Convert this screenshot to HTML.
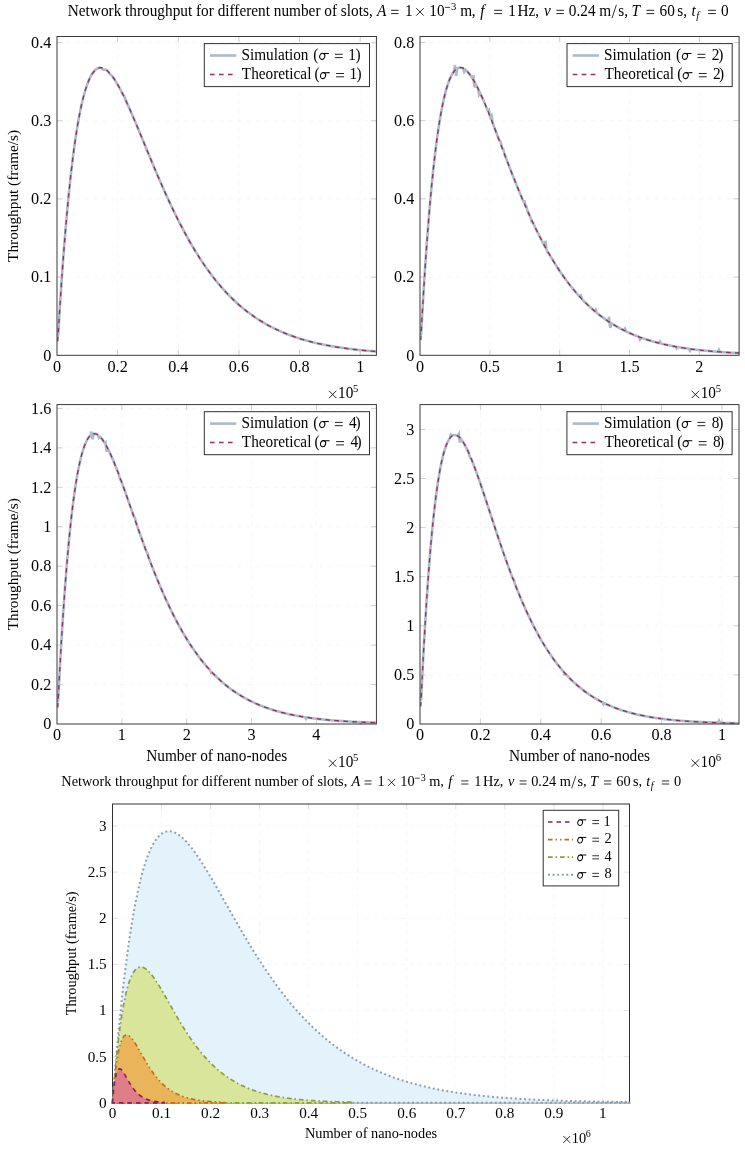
<!DOCTYPE html>
<html><head><meta charset="utf-8"><style>
html,body{margin:0;padding:0;background:#fff;width:745px;height:1149px;overflow:hidden}
svg{display:block;will-change:transform}
</style></head><body>
<svg width="745" height="1149" viewBox="0 0 745 1149" font-family='"Liberation Serif", serif' fill="#000">
<rect width="745" height="1149" fill="#fff"/>
<g font-size="15.3"><text x="67.80" y="15.60" transform="translate(0,-0.624) scale(1,1.04)">Network throughput for different number of slots,</text><text x="377.10" y="15.60" font-style="italic" transform="translate(0,-0.624) scale(1,1.04)">A</text><path d="M391.10 10.30H398.60M391.10 13.60H398.60" stroke="#000" stroke-width="0.86"/><text x="404.90" y="15.60" transform="translate(0,-0.624) scale(1,1.04)">1</text><path d="M416.30 8.20L423.70 15.60M423.70 8.20L416.30 15.60" stroke="#000" stroke-width="0.86"/><text x="429.30" y="15.60" transform="translate(0,-0.624) scale(1,1.04)">10</text><path d="M444.9 7.4H450.1" stroke="#000" stroke-width="0.75"/><text x="451.10" y="10.20" font-size="10.71" transform="translate(0,-0.408) scale(1,1.04)">3</text><text x="460.20" y="15.60" transform="translate(0,-0.624) scale(1,1.04)">m</text><text x="471.80" y="15.60" transform="translate(0,-0.624) scale(1,1.04)">,</text><text x="480.30" y="15.60" font-style="italic" transform="translate(0,-0.624) scale(1,1.04)">f</text><path d="M494.20 10.30H501.90M494.20 13.60H501.90" stroke="#000" stroke-width="0.86"/><text x="508.20" y="15.60" transform="translate(0,-0.624) scale(1,1.04)">1</text><text x="517.50" y="15.60" transform="translate(0,-0.624) scale(1,1.04)">Hz,</text><text x="544.10" y="15.60" font-style="italic" transform="translate(0,-0.624) scale(1,1.04)">v</text><path d="M556.40 10.30H563.90M556.40 13.60H563.90" stroke="#000" stroke-width="0.86"/><text x="568.80" y="15.60" transform="translate(0,-0.624) scale(1,1.04)">0.24</text><text x="599.30" y="15.60" transform="translate(0,-0.624) scale(1,1.04)">m</text><path d="M612.0 18.2L616.4 4.9" stroke="#000" stroke-width="0.8"/><text x="618.20" y="15.60" transform="translate(0,-0.624) scale(1,1.04)">s,</text><text x="631.60" y="15.60" font-style="italic" transform="translate(0,-0.624) scale(1,1.04)">T</text><path d="M646.40 10.30H654.20M646.40 13.60H654.20" stroke="#000" stroke-width="0.86"/><text x="659.50" y="15.60" transform="translate(0,-0.624) scale(1,1.04)">60</text><text x="677.30" y="15.60" transform="translate(0,-0.624) scale(1,1.04)">s,</text><text x="691.50" y="15.60" font-style="italic" transform="translate(0,-0.624) scale(1,1.04)">t</text><text x="696.30" y="18.60" font-style="italic" font-size="10.71" transform="translate(0,-0.744) scale(1,1.04)">f</text><path d="M708.10 10.30H715.90M708.10 13.60H715.90" stroke="#000" stroke-width="0.86"/><text x="721.00" y="15.60" transform="translate(0,-0.624) scale(1,1.04)">0</text></g>
<g font-size="15.3" transform="translate(61.3,785.9) scale(0.93791) translate(-67.8,-15.6)"><text x="67.80" y="15.60" transform="translate(0,-0.624) scale(1,1.04)">Network throughput for different number of slots,</text><text x="377.10" y="15.60" font-style="italic" transform="translate(0,-0.624) scale(1,1.04)">A</text><path d="M391.10 10.30H398.60M391.10 13.60H398.60" stroke="#000" stroke-width="0.86"/><text x="404.90" y="15.60" transform="translate(0,-0.624) scale(1,1.04)">1</text><path d="M416.30 8.20L423.70 15.60M423.70 8.20L416.30 15.60" stroke="#000" stroke-width="0.86"/><text x="429.30" y="15.60" transform="translate(0,-0.624) scale(1,1.04)">10</text><path d="M444.9 7.4H450.1" stroke="#000" stroke-width="0.75"/><text x="451.10" y="10.20" font-size="10.71" transform="translate(0,-0.408) scale(1,1.04)">3</text><text x="460.20" y="15.60" transform="translate(0,-0.624) scale(1,1.04)">m</text><text x="471.80" y="15.60" transform="translate(0,-0.624) scale(1,1.04)">,</text><text x="480.30" y="15.60" font-style="italic" transform="translate(0,-0.624) scale(1,1.04)">f</text><path d="M494.20 10.30H501.90M494.20 13.60H501.90" stroke="#000" stroke-width="0.86"/><text x="508.20" y="15.60" transform="translate(0,-0.624) scale(1,1.04)">1</text><text x="517.50" y="15.60" transform="translate(0,-0.624) scale(1,1.04)">Hz,</text><text x="544.10" y="15.60" font-style="italic" transform="translate(0,-0.624) scale(1,1.04)">v</text><path d="M556.40 10.30H563.90M556.40 13.60H563.90" stroke="#000" stroke-width="0.86"/><text x="568.80" y="15.60" transform="translate(0,-0.624) scale(1,1.04)">0.24</text><text x="599.30" y="15.60" transform="translate(0,-0.624) scale(1,1.04)">m</text><path d="M612.0 18.2L616.4 4.9" stroke="#000" stroke-width="0.8"/><text x="618.20" y="15.60" transform="translate(0,-0.624) scale(1,1.04)">s,</text><text x="631.60" y="15.60" font-style="italic" transform="translate(0,-0.624) scale(1,1.04)">T</text><path d="M646.40 10.30H654.20M646.40 13.60H654.20" stroke="#000" stroke-width="0.86"/><text x="659.50" y="15.60" transform="translate(0,-0.624) scale(1,1.04)">60</text><text x="677.30" y="15.60" transform="translate(0,-0.624) scale(1,1.04)">s,</text><text x="691.50" y="15.60" font-style="italic" transform="translate(0,-0.624) scale(1,1.04)">t</text><text x="696.30" y="18.60" font-style="italic" font-size="10.71" transform="translate(0,-0.744) scale(1,1.04)">f</text><path d="M708.10 10.30H715.90M708.10 13.60H715.90" stroke="#000" stroke-width="0.86"/><text x="721.00" y="15.60" transform="translate(0,-0.624) scale(1,1.04)">0</text></g>
<path d="M117.64 36.50V355.30M178.28 36.50V355.30M238.92 36.50V355.30M299.56 36.50V355.30M360.20 36.50V355.30M57.00 277.12H376.40M57.00 198.95H376.40M57.00 120.78H376.40M57.00 42.60H376.40" stroke="#f7f7f7" stroke-width="1" stroke-dasharray="5 4" fill="none"/>
<path d="M58.06 336.70L59.13 318.99L60.19 302.15L61.26 286.13L62.32 270.93L63.39 256.49L64.45 242.80L65.52 229.82L66.58 217.54L67.65 205.92L68.71 194.94L69.78 184.58L70.84 174.81L71.91 165.61L72.97 156.95L74.03 148.83L75.10 141.21L76.16 134.07L77.23 127.41L78.29 121.19L79.36 115.41L80.42 110.04L81.49 105.07L82.55 100.48L83.62 96.26L84.68 92.38L85.75 88.85L86.81 85.64L87.88 82.73L88.94 80.13L90.00 77.81L91.07 75.75L92.13 73.96L93.20 72.42L94.26 71.12L95.33 70.04L96.39 69.18L97.46 68.52L98.52 68.07L99.59 67.80L100.65 67.71L100.70 67.71L103.20 69.68L105.70 69.48L105.97 69.68L107.00 70.46L109.50 73.77L112.00 75.88L112.36 76.37L113.43 77.85L114.49 79.43L115.56 81.09L116.62 82.83L117.69 84.64L118.75 86.53L119.82 88.48L120.88 90.50L121.70 92.09L124.20 96.38L126.70 102.43L127.27 103.66L128.33 106.00L129.40 108.38L130.46 110.78L131.53 113.21L132.59 115.67L133.66 118.15L134.72 120.65L135.79 123.16L136.85 125.69L137.91 128.24L138.98 130.79L140.04 133.36L141.11 135.93L142.17 138.50L143.24 141.08L144.30 143.66L145.37 146.24L146.43 148.82L147.50 151.39L148.56 153.96L149.63 156.53L150.69 159.09L151.76 161.64L152.82 164.18L153.88 166.71L154.95 169.23L156.01 171.74L157.08 174.24L158.14 176.72L159.21 179.18L160.27 181.64L161.34 184.07L162.40 186.49L163.47 188.90L164.53 191.28L165.60 193.65L166.66 195.99L167.73 198.32L168.79 200.63L169.85 202.92L170.92 205.19L171.98 207.43L173.05 209.66L174.11 211.87L175.18 214.05L176.24 216.21L177.31 218.35L178.37 220.46L179.44 222.56L180.50 224.63L181.57 226.68L182.63 228.70L183.70 230.71L184.76 232.69L185.82 234.64L186.89 236.58L187.95 238.49L189.02 240.37L190.08 242.24L191.15 244.08L192.21 245.90L193.28 247.69L194.34 249.46L195.41 251.21L196.47 252.94L197.54 254.64L198.60 256.32L199.67 257.98L200.73 259.62L201.79 261.23L202.86 262.82L203.92 264.39L204.99 265.94L206.05 267.46L207.12 268.97L208.18 270.45L209.25 271.91L210.31 273.35L211.38 274.77L212.44 276.17L213.51 277.54L214.57 278.90L215.64 280.24L216.70 281.55L217.76 282.85L218.83 284.13L219.89 285.38L220.96 286.62L222.02 287.84L223.09 289.04L224.15 290.22L225.22 291.39L226.28 292.53L227.35 293.66L228.41 294.77L229.48 295.86L230.54 296.93L231.61 297.99L232.67 299.03L233.73 300.05L234.80 301.06L235.86 302.05L236.93 303.02L237.99 303.98L239.06 304.92L240.12 305.85L241.19 306.76L242.25 307.65L243.32 308.53L244.38 309.40L245.45 310.25L246.51 311.09L247.58 311.91L248.64 312.72L249.70 313.51L250.77 314.30L251.83 315.06L252.90 315.82L253.96 316.56L255.03 317.29L256.09 318.00L257.16 318.71L258.22 319.40L259.29 320.08L260.35 320.75L261.42 321.40L262.48 322.05L263.55 322.68L264.61 323.30L265.67 323.91L266.74 324.51L267.80 325.10L268.87 325.68L269.93 326.25L271.00 326.81L272.06 327.35L273.13 327.89L274.19 328.42L275.26 328.94L276.32 329.45L277.39 329.95L278.45 330.44L279.52 330.92L280.58 331.40L281.64 331.86L282.71 332.32L283.77 332.77L284.84 333.21L285.90 333.64L286.97 334.06L288.03 334.48L289.10 334.88L290.16 335.28L291.23 335.68L292.29 336.06L293.36 336.44L294.42 336.81L295.49 337.18L296.55 337.53L297.61 337.89L298.68 338.23L299.74 338.57L300.81 338.90L301.87 339.22L302.94 339.54L304.00 339.86L305.07 340.16L306.13 340.47L307.20 340.76L308.26 341.05L309.33 341.33L310.39 341.61L311.46 341.89L312.52 342.16L313.58 342.42L314.65 342.68L315.71 342.93L316.78 343.18L317.84 343.42L318.91 343.66L319.97 343.90L321.04 344.12L322.10 344.35L323.17 344.57L324.23 344.79L325.30 345.00L326.36 345.21L327.43 345.41L328.49 345.61L329.55 345.81L330.62 346.00L331.68 346.19L332.75 346.37L333.81 346.56L334.88 346.73L335.94 346.91L337.01 347.08L338.07 347.25L339.14 347.41L340.20 347.57L341.27 347.73L342.33 347.88L343.40 348.04L344.46 348.18L345.52 348.33L346.59 348.47L347.65 348.61L348.72 348.75L349.78 348.88L350.85 349.02L351.91 349.15L352.98 349.27L354.04 349.40L355.11 349.52L356.17 349.64L357.24 349.75L358.30 349.87L359.37 349.98L360.43 350.09L361.49 350.20L362.56 350.30L363.62 350.41L364.69 350.51L365.75 350.61L366.82 350.70L367.88 350.80L368.95 350.89L370.01 350.98L371.08 351.07L372.14 351.16L373.21 351.25L374.27 351.33L375.34 351.42L376.40 351.50" stroke="#acbcc4" stroke-width="2.6" fill="none" stroke-linejoin="miter" stroke-miterlimit="4"/>
<path d="M57.80 341.26L58.60 327.73L59.40 314.70L60.19 302.15L60.99 290.06L61.79 278.43L62.59 267.25L63.39 256.49L64.19 246.15L64.98 236.22L65.78 226.69L66.58 217.54L67.38 208.77L68.18 200.35L68.98 192.29L69.78 184.58L70.57 177.20L71.37 170.14L72.17 163.39L72.97 156.95L73.77 150.81L74.57 144.95L75.37 139.38L76.16 134.07L76.96 129.03L77.76 124.25L78.56 119.71L79.36 115.41L80.16 111.34L80.95 107.51L81.75 103.89L82.55 100.48L83.35 97.28L84.15 94.28L84.95 91.47L85.75 88.85L86.54 86.41L87.34 84.15L88.14 82.06L88.94 80.13L89.74 78.36L90.54 76.75L91.34 75.28L92.13 73.96L92.93 72.78L93.73 71.74L94.53 70.83L95.33 70.04L96.13 69.37L96.92 68.83L97.72 68.39L98.52 68.07L99.32 67.85L100.12 67.73L100.92 67.72L101.72 67.79L102.51 67.96L103.31 68.22L104.11 68.56L104.91 68.99L105.71 69.49L106.51 70.07L107.31 70.72L108.10 71.44L108.90 72.23L109.70 73.09L110.50 74.00L111.30 74.98L112.10 76.01L112.89 77.10L113.69 78.24L114.49 79.43L115.29 80.66L116.09 81.95L116.89 83.27L117.69 84.64L118.48 86.05L119.28 87.50L120.08 88.98L120.88 90.50L121.68 92.04L122.48 93.62L123.28 95.23L124.07 96.87L124.87 98.53L125.67 100.22L126.47 101.93L127.27 103.66L128.07 105.41L128.86 107.19L129.66 108.98L130.46 110.78L131.26 112.60L132.06 114.44L132.86 116.29L133.66 118.15L134.45 120.02L135.25 121.90L136.05 123.80L136.85 125.69L137.65 127.60L138.45 129.51L139.25 131.43L140.04 133.36L140.84 135.28L141.64 137.21L142.44 139.14L143.24 141.08L144.04 143.01L144.83 144.95L145.63 146.88L146.43 148.82L147.23 150.75L148.03 152.68L148.83 154.60L149.63 156.53L150.42 158.45L151.22 160.36L152.02 162.27L152.82 164.18L153.62 166.08L154.42 167.97L155.22 169.86L156.01 171.74L156.81 173.61L157.61 175.48L158.41 177.34L159.21 179.18L160.01 181.03L160.81 182.86L161.60 184.68L162.40 186.49L163.20 188.30L164.00 190.09L164.80 191.87L165.60 193.65L166.39 195.41L167.19 197.16L167.99 198.90L168.79 200.63L169.59 202.35L170.39 204.06L171.19 205.75L171.98 207.43L172.78 209.11L173.58 210.77L174.38 212.41L175.18 214.05L175.98 215.67L176.77 217.28L177.57 218.88L178.37 220.46L179.17 222.04L179.97 223.60L180.77 225.14L181.57 226.68L182.36 228.20L183.16 229.71L183.96 231.20L184.76 232.69L185.56 234.16L186.36 235.61L187.16 237.06L187.95 238.49L188.75 239.90L189.55 241.31L190.35 242.70L191.15 244.08L191.95 245.44L192.74 246.80L193.54 248.14L194.34 249.46L195.14 250.78L195.94 252.08L196.74 253.37L197.54 254.64L198.33 255.90L199.13 257.15L199.93 258.39L200.73 259.62L201.53 260.83L202.33 262.03L203.13 263.21L203.92 264.39L204.72 265.55L205.52 266.70L206.32 267.84L207.12 268.97L207.92 270.08L208.71 271.18L209.51 272.27L210.31 273.35L211.11 274.41L211.91 275.47L212.71 276.51L213.51 277.54L214.30 278.56L215.10 279.57L215.90 280.57L216.70 281.55L217.50 282.53L218.30 283.49L219.10 284.44L219.89 285.38L220.69 286.32L221.49 287.23L222.29 288.14L223.09 289.04L223.89 289.93L224.68 290.81L225.48 291.68L226.28 292.53L227.08 293.38L227.88 294.22L228.68 295.04L229.48 295.86L230.27 296.67L231.07 297.46L231.87 298.25L232.67 299.03L233.47 299.80L234.27 300.56L235.07 301.31L235.86 302.05L236.66 302.78L237.46 303.50L238.26 304.22L239.06 304.92L239.86 305.62L240.65 306.30L241.45 306.98L242.25 307.65L243.05 308.31L243.85 308.97L244.65 309.61L245.45 310.25L246.24 310.88L247.04 311.50L247.84 312.11L248.64 312.72L249.44 313.32L250.24 313.91L251.04 314.49L251.83 315.06L252.63 315.63L253.43 316.19L254.23 316.74L255.03 317.29L255.83 317.83L256.62 318.36L257.42 318.88L258.22 319.40L259.02 319.91L259.82 320.41L260.62 320.91L261.42 321.40L262.21 321.89L263.01 322.37L263.81 322.84L264.61 323.30L265.41 323.76L266.21 324.21L267.01 324.66L267.80 325.10L268.60 325.54L269.40 325.97L270.20 326.39L271.00 326.81L271.80 327.22L272.59 327.62L273.39 328.03L274.19 328.42L274.99 328.81L275.79 329.20L276.59 329.58L277.39 329.95L278.18 330.32L278.98 330.68L279.78 331.04L280.58 331.40L281.38 331.75L282.18 332.09L282.98 332.43L283.77 332.77L284.57 333.10L285.37 333.42L286.17 333.74L286.97 334.06L287.77 334.37L288.56 334.68L289.36 334.98L290.16 335.28L290.96 335.58L291.76 335.87L292.56 336.16L293.36 336.44L294.15 336.72L294.95 337.00L295.75 337.27L296.55 337.53L297.35 337.80L298.15 338.06L298.95 338.32L299.74 338.57L300.54 338.82L301.34 339.06L302.14 339.31L302.94 339.54L303.74 339.78L304.53 340.01L305.33 340.24L306.13 340.47L306.93 340.69L307.73 340.91L308.53 341.12L309.33 341.33L310.12 341.54L310.92 341.75L311.72 341.95L312.52 342.16L313.32 342.35L314.12 342.55L314.92 342.74L315.71 342.93L316.51 343.12L317.31 343.30L318.11 343.48L318.91 343.66L319.71 343.84L320.50 344.01L321.30 344.18L322.10 344.35L322.90 344.52L323.70 344.68L324.50 344.84L325.30 345.00L326.09 345.16L326.89 345.31L327.69 345.46L328.49 345.61L329.29 345.76L330.09 345.91L330.89 346.05L331.68 346.19L332.48 346.33L333.28 346.47L334.08 346.60L334.88 346.73L335.68 346.87L336.47 346.99L337.27 347.12L338.07 347.25L338.87 347.37L339.67 347.49L340.47 347.61L341.27 347.73L342.06 347.85L342.86 347.96L343.66 348.07L344.46 348.18L345.26 348.29L346.06 348.40L346.86 348.51L347.65 348.61L348.45 348.72L349.25 348.82L350.05 348.92L350.85 349.02L351.65 349.11L352.44 349.21L353.24 349.30L354.04 349.40L354.84 349.49L355.64 349.58L356.44 349.67L357.24 349.75L358.03 349.84L358.83 349.92L359.63 350.01L360.43 350.09L361.23 350.17L362.03 350.25L362.83 350.33L363.62 350.41L364.42 350.48L365.22 350.56L366.02 350.63L366.82 350.70L367.62 350.78L368.41 350.85L369.21 350.92L370.01 350.98L370.81 351.05L371.61 351.12L372.41 351.18L373.21 351.25L374.00 351.31L374.80 351.37L375.60 351.44L376.40 351.50" stroke="#962c6a" stroke-width="1.35" fill="none" stroke-dasharray="4.6 4.4"/>
<path d="M117.64 355.30v-5.6M117.64 36.50v5.6M178.28 355.30v-5.6M178.28 36.50v5.6M238.92 355.30v-5.6M238.92 36.50v5.6M299.56 355.30v-5.6M299.56 36.50v5.6M360.20 355.30v-5.6M360.20 36.50v5.6M57.00 277.12h5.6M376.40 277.12h-5.6M57.00 198.95h5.6M376.40 198.95h-5.6M57.00 120.78h5.6M376.40 120.78h-5.6M57.00 42.60h5.6M376.40 42.60h-5.6" stroke="#c4c4c4" stroke-width="0.8" fill="none"/>
<rect x="57.00" y="36.50" width="319.40" height="318.80" fill="none" stroke="#303030" stroke-width="0.95"/>
<text x="57.00" y="371.50" font-size="16.2" text-anchor="middle" >0</text>
<text x="117.64" y="371.50" font-size="16.2" text-anchor="middle" >0.2</text>
<text x="178.28" y="371.50" font-size="16.2" text-anchor="middle" >0.4</text>
<text x="238.92" y="371.50" font-size="16.2" text-anchor="middle" >0.6</text>
<text x="299.56" y="371.50" font-size="16.2" text-anchor="middle" >0.8</text>
<text x="360.20" y="371.50" font-size="16.2" text-anchor="middle" >1</text>
<text x="51.30" y="360.50" font-size="16.2" text-anchor="end" >0</text>
<text x="51.30" y="282.32" font-size="16.2" text-anchor="end" >0.1</text>
<text x="51.30" y="204.15" font-size="16.2" text-anchor="end" >0.2</text>
<text x="51.30" y="125.98" font-size="16.2" text-anchor="end" >0.3</text>
<text x="51.30" y="47.80" font-size="16.2" text-anchor="end" >0.4</text>
<rect x="204.30" y="43.60" width="165.2" height="43.0" fill="#fff" stroke="#303030" stroke-width="1"/>
<path d="M210.00 55.50h26.3" stroke="#acbcc4" stroke-width="2.6"/>
<path d="M210.00 74.40h23.5" stroke="#962c6a" stroke-width="1.45" stroke-dasharray="4.6 4.4"/>
<g font-size="15.3"><text x="241.40" y="59.70" transform="translate(0,-2.388) scale(1,1.04)">Simulation</text><text x="313.30" y="59.70" transform="translate(0,-2.388) scale(1,1.04)">(</text><g transform="translate(318.90,59.70) scale(0.1530)" fill="none" stroke="#000"><ellipse cx="21.8" cy="-21.5" rx="16.8" ry="20" transform="rotate(18 21.8 -21.5)" stroke-width="6.8"/><path d="M20 -40.5 C 35 -40.3, 50 -41, 65 -41" stroke-width="6.6"/></g><path d="M334.80 54.30H342.70M334.80 57.60H342.70" stroke="#000" stroke-width="0.86"/><text x="348.20" y="59.70" transform="translate(0,-2.388) scale(1,1.04)">1</text><text x="355.60" y="59.70" transform="translate(0,-2.388) scale(1,1.04)">)</text><text x="241.80" y="78.90" transform="translate(0,-3.156) scale(1,1.04)">Theoretical</text><text x="314.60" y="78.90" transform="translate(0,-3.156) scale(1,1.04)">(</text><g transform="translate(319.70,78.90) scale(0.1530)" fill="none" stroke="#000"><ellipse cx="21.8" cy="-21.5" rx="16.8" ry="20" transform="rotate(18 21.8 -21.5)" stroke-width="6.8"/><path d="M20 -40.5 C 35 -40.3, 50 -41, 65 -41" stroke-width="6.6"/></g><path d="M336.10 73.50H344.00M336.10 76.80H344.00" stroke="#000" stroke-width="0.86"/><text x="349.50" y="78.90" transform="translate(0,-3.156) scale(1,1.04)">1</text><text x="356.40" y="78.90" transform="translate(0,-3.156) scale(1,1.04)">)</text></g>
<path d="M329.00 390.80L336.34 398.15M336.34 390.80L329.00 398.15" stroke="#000" stroke-width="0.86"/><text x="338.03" y="398.30" font-size="15.30" transform="translate(0,-15.932) scale(1,1.04)">10</text><text x="353.03" y="392.18" font-size="10.71" transform="translate(0,-15.687) scale(1,1.04)">5</text>
<path d="M489.85 36.50V355.30M559.70 36.50V355.30M629.55 36.50V355.30M699.40 36.50V355.30M420.00 277.08H739.10M420.00 198.86H739.10M420.00 120.64H739.10M420.00 42.42H739.10" stroke="#f7f7f7" stroke-width="1" stroke-dasharray="5 4" fill="none"/>
<path d="M421.06 335.16L422.13 316.07L423.19 297.99L424.25 280.88L425.32 264.71L426.38 249.42L427.45 235.00L428.51 221.40L429.57 208.60L430.64 196.55L431.70 185.23L432.76 174.61L433.83 164.66L434.89 155.35L435.95 146.66L437.02 138.55L438.08 131.02L439.15 124.02L440.21 117.54L441.27 111.56L442.34 106.05L443.40 100.99L444.46 96.37L445.53 92.16L446.59 88.35L447.66 84.91L448.72 81.84L449.78 79.11L450.85 76.71L451.91 74.62L452.97 72.83L454.00 71.38L455.00 64.95L455.30 69.89L456.30 75.76L457.30 68.35L458.29 67.89L459.36 67.61L460.42 67.55L461.48 67.68L462.55 68.00L463.00 68.19L464.20 71.85L465.40 69.72L465.74 70.00L466.80 70.99L467.87 72.11L468.93 73.37L469.99 74.76L471.06 76.26L472.12 77.88L472.50 78.49L473.50 75.26L473.60 80.31L474.60 87.31L475.60 83.88L476.37 85.35L477.10 86.76L478.10 88.76L479.10 94.58L480.10 92.96L480.63 94.11L481.69 96.46L482.76 98.87L483.82 101.32L484.88 103.83L485.95 106.37L487.01 108.96L487.70 110.65L488.90 109.88L490.10 116.65L490.20 116.91L490.40 117.41L491.60 115.59L492.80 123.54L493.39 125.07L494.46 127.83L495.52 130.60L496.58 133.38L497.65 136.17L498.71 138.96L499.30 140.51L500.50 141.42L501.70 146.82L501.90 147.36L502.38 148.61L503.38 149.25L504.38 153.86L505.09 155.73L506.16 158.51L507.22 161.27L508.28 164.03L509.35 166.78L510.41 169.51L511.48 172.23L512.54 174.93L513.60 177.62L514.67 180.29L515.73 182.94L516.79 185.57L517.86 188.18L518.92 190.77L519.98 193.34L521.05 195.89L522.11 198.42L523.18 200.92L523.50 201.68L524.70 201.46L525.27 205.77L526.27 206.13L527.27 210.32L527.43 210.68L528.49 213.06L529.56 215.42L530.62 217.74L530.78 218.10L531.78 221.97L532.78 222.39L533.47 223.85L533.76 224.46L533.81 224.57L534.88 226.79L535.94 228.98L537.00 231.15L538.07 233.29L539.13 235.40L540.19 237.49L541.26 239.54L542.32 241.58L543.39 243.58L544.40 245.47L545.60 240.92L546.40 249.12L546.63 249.53L547.63 252.85L548.63 253.07L548.70 253.19L549.77 255.04L550.83 256.85L551.89 258.64L552.96 260.40L554.02 262.14L555.09 263.85L556.15 265.54L557.21 267.19L558.28 268.83L559.34 270.44L560.40 272.02L561.47 273.58L562.53 275.11L563.60 276.62L564.66 278.11L565.72 279.57L566.79 281.01L567.85 282.42L568.91 283.81L569.98 285.18L571.04 286.52L572.10 287.85L573.17 289.15L574.23 290.43L575.30 291.68L576.36 292.92L577.42 294.13L578.49 295.33L579.50 296.44L580.70 295.49L581.90 299.02L582.74 299.90L583.80 300.99L584.87 302.06L585.93 303.12L587.00 304.15L588.06 305.17L589.12 306.17L590.19 307.15L591.25 308.11L592.31 309.06L593.20 309.83L594.20 310.69L594.72 311.13L595.72 309.77L596.72 312.79L597.63 313.53L598.70 314.38L599.76 315.21L600.82 316.02L601.89 316.82L602.95 317.61L604.01 318.38L605.08 319.13L606.14 319.88L607.21 320.60L608.20 321.27L609.20 316.68L609.30 321.99L610.30 327.89L611.30 323.27L611.46 323.38L612.52 324.04L613.59 324.68L614.65 325.32L615.71 325.94L616.78 326.55L617.84 327.15L618.91 327.74L619.97 328.31L621.03 328.88L622.10 329.43L623.16 329.97L623.80 330.29L625.00 328.64L626.20 331.46L626.35 331.54L627.42 332.04L628.48 332.53L629.54 333.01L630.61 333.48L631.67 333.94L632.73 334.39L633.80 334.84L634.86 335.27L635.92 335.70L636.99 336.12L638.05 336.53L638.80 336.81L640.00 339.50L641.20 337.69L641.24 337.70L642.31 338.08L643.37 338.45L644.43 338.81L645.50 339.16L646.56 339.51L647.62 339.85L648.69 340.18L649.75 340.51L650.82 340.83L651.88 341.14L652.94 341.45L654.01 341.75L655.07 342.04L656.13 342.33L657.20 342.61L658.26 342.89L658.80 343.02L660.00 341.45L661.20 343.62L661.45 343.68L662.52 343.93L663.58 344.18L664.64 344.42L665.71 344.66L666.77 344.89L667.83 345.12L668.90 345.34L669.96 345.56L671.03 345.78L672.09 345.99L673.15 346.19L674.22 346.39L675.28 346.59L675.60 346.64L676.60 348.33L677.60 347.00L678.47 347.15L679.53 347.33L680.60 347.51L681.66 347.68L682.73 347.85L683.79 348.01L684.85 348.17L685.92 348.33L686.98 348.49L688.04 348.64L688.80 348.74L690.00 350.78L691.20 349.07L691.24 349.07L692.30 349.21L693.36 349.35L694.43 349.48L695.49 349.61L696.55 349.74L697.62 349.86L698.68 349.98L699.74 350.10L700.81 350.22L701.87 350.33L702.94 350.44L704.00 350.55L705.06 350.66L706.13 350.76L707.19 350.87L708.25 350.96L709.32 351.06L710.38 351.16L711.44 351.25L712.51 351.34L713.57 351.43L714.64 351.52L715.70 351.60L716.76 351.69L717.83 351.77L717.84 351.77L718.84 349.91L719.84 351.92L719.95 351.93L721.02 352.00L722.08 352.08L723.14 352.15L724.21 352.22L725.27 352.29L726.34 352.36L727.40 352.43L728.46 352.49L729.53 352.56L730.59 352.62L731.65 352.68L732.72 352.74L733.78 352.80L734.85 352.85L735.91 352.91L736.97 352.97L738.04 353.02L739.10 353.07" stroke="#acbcc4" stroke-width="2.6" fill="none" stroke-linejoin="miter" stroke-miterlimit="4"/>
<path d="M420.80 340.10L421.60 325.49L422.39 311.46L423.19 297.99L423.99 285.07L424.79 272.68L425.58 260.80L426.38 249.42L427.18 238.53L427.98 228.10L428.78 218.13L429.57 208.60L430.37 199.49L431.17 190.80L431.97 182.51L432.76 174.61L433.56 167.08L434.36 159.93L435.16 153.12L435.95 146.66L436.75 140.53L437.55 134.72L438.35 129.22L439.15 124.02L439.94 119.11L440.74 114.49L441.54 110.14L442.34 106.05L443.13 102.21L443.93 98.63L444.73 95.28L445.53 92.16L446.33 89.26L447.12 86.58L447.92 84.11L448.72 81.84L449.52 79.76L450.31 77.87L451.11 76.16L451.91 74.62L452.71 73.25L453.51 72.05L454.30 71.00L455.10 70.10L455.90 69.34L456.70 68.72L457.49 68.24L458.29 67.89L459.09 67.66L459.89 67.56L460.69 67.56L461.48 67.68L462.28 67.90L463.08 68.23L463.88 68.66L464.67 69.17L465.47 69.78L466.27 70.48L467.07 71.25L467.87 72.11L468.66 73.04L469.46 74.05L470.26 75.12L471.06 76.26L471.85 77.47L472.65 78.73L473.45 80.05L474.25 81.43L475.04 82.86L475.84 84.34L476.64 85.86L477.44 87.43L478.24 89.04L479.03 90.69L479.83 92.38L480.63 94.11L481.43 95.87L482.22 97.66L483.02 99.48L483.82 101.32L484.62 103.20L485.42 105.10L486.21 107.02L487.01 108.96L487.81 110.92L488.61 112.90L489.40 114.90L490.20 116.91L491.00 118.93L491.80 120.97L492.60 123.02L493.39 125.07L494.19 127.14L494.99 129.21L495.79 131.29L496.58 133.38L497.38 135.47L498.18 137.57L498.98 139.66L499.77 141.76L500.57 143.86L501.37 145.96L502.17 148.06L502.97 150.15L503.76 152.25L504.56 154.34L505.36 156.42L506.16 158.51L506.95 160.58L507.75 162.65L508.55 164.72L509.35 166.78L510.15 168.83L510.94 170.87L511.74 172.91L512.54 174.93L513.34 176.95L514.13 178.96L514.93 180.95L515.73 182.94L516.53 184.92L517.33 186.88L518.12 188.83L518.92 190.77L519.72 192.70L520.52 194.62L521.31 196.53L522.11 198.42L522.91 200.30L523.71 202.16L524.51 204.01L525.30 205.85L526.10 207.67L526.90 209.48L527.70 211.28L528.49 213.06L529.29 214.83L530.09 216.58L530.89 218.32L531.69 220.04L532.48 221.75L533.28 223.44L534.08 225.12L534.88 226.79L535.67 228.43L536.47 230.07L537.27 231.69L538.07 233.29L538.86 234.87L539.66 236.45L540.46 238.00L541.26 239.54L542.06 241.07L542.85 242.58L543.65 244.08L544.45 245.56L545.25 247.02L546.04 248.47L546.84 249.91L547.64 251.33L548.44 252.73L549.24 254.12L550.03 255.49L550.83 256.85L551.63 258.20L552.43 259.53L553.22 260.84L554.02 262.14L554.82 263.43L555.62 264.70L556.42 265.95L557.21 267.19L558.01 268.42L558.81 269.64L559.61 270.83L560.40 272.02L561.20 273.19L562.00 274.35L562.80 275.49L563.60 276.62L564.39 277.74L565.19 278.84L565.99 279.93L566.79 281.01L567.58 282.07L568.38 283.12L569.18 284.15L569.98 285.18L570.77 286.19L571.57 287.19L572.37 288.17L573.17 289.15L573.97 290.11L574.76 291.06L575.56 291.99L576.36 292.92L577.16 293.83L577.95 294.73L578.75 295.62L579.55 296.50L580.35 297.36L581.15 298.22L581.94 299.06L582.74 299.90L583.54 300.72L584.34 301.53L585.13 302.33L585.93 303.12L586.73 303.89L587.53 304.66L588.33 305.42L589.12 306.17L589.92 306.91L590.72 307.63L591.52 308.35L592.31 309.06L593.11 309.76L593.91 310.44L594.71 311.12L595.51 311.79L596.30 312.45L597.10 313.10L597.90 313.75L598.70 314.38L599.49 315.00L600.29 315.62L601.09 316.23L601.89 316.82L602.68 317.41L603.48 318.00L604.28 318.57L605.08 319.13L605.88 319.69L606.67 320.24L607.47 320.78L608.27 321.32L609.07 321.84L609.86 322.36L610.66 322.87L611.46 323.38L612.26 323.87L613.06 324.36L613.85 324.84L614.65 325.32L615.45 325.79L616.25 326.25L617.04 326.70L617.84 327.15L618.64 327.59L619.44 328.03L620.24 328.45L621.03 328.88L621.83 329.29L622.63 329.70L623.43 330.11L624.22 330.50L625.02 330.90L625.82 331.28L626.62 331.66L627.41 332.04L628.21 332.41L629.01 332.77L629.81 333.13L630.61 333.48L631.40 333.83L632.20 334.17L633.00 334.51L633.80 334.84L634.59 335.17L635.39 335.49L636.19 335.80L636.99 336.12L637.79 336.42L638.58 336.73L639.38 337.03L640.18 337.32L640.98 337.61L641.77 337.89L642.57 338.17L643.37 338.45L644.17 338.72L644.97 338.99L645.76 339.25L646.56 339.51L647.36 339.77L648.16 340.02L648.95 340.27L649.75 340.51L650.55 340.75L651.35 340.99L652.15 341.22L652.94 341.45L653.74 341.67L654.54 341.90L655.34 342.11L656.13 342.33L656.93 342.54L657.73 342.75L658.53 342.95L659.33 343.16L660.12 343.35L660.92 343.55L661.72 343.74L662.52 343.93L663.31 344.12L664.11 344.30L664.91 344.48L665.71 344.66L666.50 344.84L667.30 345.01L668.10 345.18L668.90 345.34L669.70 345.51L670.49 345.67L671.29 345.83L672.09 345.99L672.89 346.14L673.68 346.29L674.48 346.44L675.28 346.59L676.08 346.73L676.88 346.87L677.67 347.01L678.47 347.15L679.27 347.29L680.07 347.42L680.86 347.55L681.66 347.68L682.46 347.81L683.26 347.93L684.06 348.05L684.85 348.17L685.65 348.29L686.45 348.41L687.25 348.53L688.04 348.64L688.84 348.75L689.64 348.86L690.44 348.97L691.24 349.07L692.03 349.18L692.83 349.28L693.63 349.38L694.43 349.48L695.22 349.58L696.02 349.67L696.82 349.77L697.62 349.86L698.41 349.95L699.21 350.04L700.01 350.13L700.81 350.22L701.61 350.30L702.40 350.39L703.20 350.47L704.00 350.55L704.80 350.63L705.59 350.71L706.39 350.79L707.19 350.87L707.99 350.94L708.79 351.01L709.58 351.09L710.38 351.16L711.18 351.23L711.98 351.30L712.77 351.36L713.57 351.43L714.37 351.50L715.17 351.56L715.97 351.63L716.76 351.69L717.56 351.75L718.36 351.81L719.16 351.87L719.95 351.93L720.75 351.98L721.55 352.04L722.35 352.10L723.14 352.15L723.94 352.20L724.74 352.26L725.54 352.31L726.34 352.36L727.13 352.41L727.93 352.46L728.73 352.51L729.53 352.56L730.32 352.60L731.12 352.65L731.92 352.70L732.72 352.74L733.52 352.78L734.31 352.83L735.11 352.87L735.91 352.91L736.71 352.95L737.50 352.99L738.30 353.03L739.10 353.07" stroke="#962c6a" stroke-width="1.35" fill="none" stroke-dasharray="4.6 4.4"/>
<path d="M489.85 355.30v-5.6M489.85 36.50v5.6M559.70 355.30v-5.6M559.70 36.50v5.6M629.55 355.30v-5.6M629.55 36.50v5.6M699.40 355.30v-5.6M699.40 36.50v5.6M420.00 277.08h5.6M739.10 277.08h-5.6M420.00 198.86h5.6M739.10 198.86h-5.6M420.00 120.64h5.6M739.10 120.64h-5.6M420.00 42.42h5.6M739.10 42.42h-5.6" stroke="#c4c4c4" stroke-width="0.8" fill="none"/>
<rect x="420.00" y="36.50" width="319.10" height="318.80" fill="none" stroke="#303030" stroke-width="0.95"/>
<text x="420.00" y="371.50" font-size="16.2" text-anchor="middle" >0</text>
<text x="489.85" y="371.50" font-size="16.2" text-anchor="middle" >0.5</text>
<text x="559.70" y="371.50" font-size="16.2" text-anchor="middle" >1</text>
<text x="629.55" y="371.50" font-size="16.2" text-anchor="middle" >1.5</text>
<text x="699.40" y="371.50" font-size="16.2" text-anchor="middle" >2</text>
<text x="414.30" y="360.50" font-size="16.2" text-anchor="end" >0</text>
<text x="414.30" y="282.28" font-size="16.2" text-anchor="end" >0.2</text>
<text x="414.30" y="204.06" font-size="16.2" text-anchor="end" >0.4</text>
<text x="414.30" y="125.84" font-size="16.2" text-anchor="end" >0.6</text>
<text x="414.30" y="47.62" font-size="16.2" text-anchor="end" >0.8</text>
<rect x="567.00" y="43.60" width="165.2" height="43.0" fill="#fff" stroke="#303030" stroke-width="1"/>
<path d="M572.70 55.50h26.3" stroke="#acbcc4" stroke-width="2.6"/>
<path d="M572.70 74.40h23.5" stroke="#962c6a" stroke-width="1.45" stroke-dasharray="4.6 4.4"/>
<g font-size="15.3"><text x="604.10" y="59.70" transform="translate(0,-2.388) scale(1,1.04)">Simulation</text><text x="676.00" y="59.70" transform="translate(0,-2.388) scale(1,1.04)">(</text><g transform="translate(681.60,59.70) scale(0.1530)" fill="none" stroke="#000"><ellipse cx="21.8" cy="-21.5" rx="16.8" ry="20" transform="rotate(18 21.8 -21.5)" stroke-width="6.8"/><path d="M20 -40.5 C 35 -40.3, 50 -41, 65 -41" stroke-width="6.6"/></g><path d="M697.50 54.30H705.40M697.50 57.60H705.40" stroke="#000" stroke-width="0.86"/><text x="711.80" y="59.70" transform="translate(0,-2.388) scale(1,1.04)">2</text><text x="718.30" y="59.70" transform="translate(0,-2.388) scale(1,1.04)">)</text><text x="604.50" y="78.90" transform="translate(0,-3.156) scale(1,1.04)">Theoretical</text><text x="677.30" y="78.90" transform="translate(0,-3.156) scale(1,1.04)">(</text><g transform="translate(682.40,78.90) scale(0.1530)" fill="none" stroke="#000"><ellipse cx="21.8" cy="-21.5" rx="16.8" ry="20" transform="rotate(18 21.8 -21.5)" stroke-width="6.8"/><path d="M20 -40.5 C 35 -40.3, 50 -41, 65 -41" stroke-width="6.6"/></g><path d="M698.80 73.50H706.70M698.80 76.80H706.70" stroke="#000" stroke-width="0.86"/><text x="713.10" y="78.90" transform="translate(0,-3.156) scale(1,1.04)">2</text><text x="719.10" y="78.90" transform="translate(0,-3.156) scale(1,1.04)">)</text></g>
<path d="M691.70 390.80L699.04 398.15M699.04 390.80L691.70 398.15" stroke="#000" stroke-width="0.86"/><text x="700.73" y="398.30" font-size="15.30" transform="translate(0,-15.932) scale(1,1.04)">10</text><text x="715.73" y="392.18" font-size="10.71" transform="translate(0,-15.687) scale(1,1.04)">5</text>
<path d="M121.85 404.60V724.00M186.70 404.60V724.00M251.55 404.60V724.00M316.40 404.60V724.00M57.00 684.55H376.40M57.00 645.10H376.40M57.00 605.65H376.40M57.00 566.20H376.40M57.00 526.75H376.40M57.00 487.30H376.40M57.00 447.85H376.40M57.00 408.40H376.40" stroke="#f7f7f7" stroke-width="1" stroke-dasharray="5 4" fill="none"/>
<path d="M58.06 702.14L59.13 681.52L60.19 662.06L61.26 643.74L62.32 626.49L63.39 610.28L64.45 595.05L65.52 580.77L66.58 567.40L67.65 554.89L68.71 543.20L69.78 532.31L70.84 522.17L71.91 512.75L72.97 504.03L74.03 495.95L75.10 488.51L76.16 481.66L77.23 475.39L78.29 469.66L79.36 464.44L80.42 459.73L81.49 455.48L82.55 451.68L83.62 448.30L84.68 445.33L85.75 442.74L86.81 440.52L87.88 438.65L88.94 437.10L90.00 435.87L90.50 435.40L91.50 431.63L91.60 434.57L92.60 439.32L93.60 433.80L94.26 433.74L95.33 433.84L96.39 434.16L97.46 434.69L97.70 434.84L98.90 437.98L100.10 436.85L100.65 437.43L101.72 438.69L102.78 440.11L103.85 441.67L104.60 442.86L105.60 442.28L105.70 444.71L106.70 451.75L107.70 448.40L108.10 449.19L109.17 451.35L110.23 453.60L111.30 455.94L112.36 458.37L113.43 460.87L114.49 463.43L115.56 466.07L116.62 468.76L117.69 471.50L118.75 474.29L118.80 474.42L120.00 479.49L121.20 480.86L121.94 482.90L123.01 485.83L124.07 488.79L125.14 491.77L126.20 494.77L127.27 497.78L128.33 500.81L129.40 503.84L130.46 506.88L131.53 509.92L132.59 512.97L133.66 516.01L133.80 516.42L135.00 517.97L136.20 523.25L136.85 525.10L137.91 528.11L138.98 531.11L140.04 534.10L141.11 537.07L142.17 540.02L143.24 542.95L144.30 545.87L145.37 548.76L146.39 551.51L147.39 552.81L148.39 556.84L148.56 557.31L149.63 560.11L150.69 562.88L151.76 565.63L152.82 568.35L153.88 571.05L154.95 573.71L156.01 576.35L157.08 578.95L158.14 581.53L159.21 584.07L160.27 586.59L161.34 589.07L162.40 591.53L163.47 593.95L164.53 596.34L165.60 598.70L166.66 601.02L167.73 603.32L168.79 605.58L169.85 607.81L170.92 610.01L171.98 612.18L173.05 614.32L174.11 616.42L175.18 618.49L176.24 620.54L177.31 622.54L178.37 624.52L179.44 626.47L180.50 628.39L181.57 630.27L182.63 632.13L183.70 633.95L184.76 635.75L185.82 637.51L186.89 639.25L187.95 640.95L189.02 642.63L190.08 644.28L191.15 645.90L192.21 647.49L193.28 649.06L194.34 650.59L195.41 652.10L196.47 653.59L197.54 655.04L198.60 656.47L199.67 657.88L200.73 659.26L201.79 660.61L202.86 661.94L203.92 663.24L204.99 664.52L206.05 665.78L207.12 667.01L208.18 668.22L209.25 669.40L210.13 670.37L211.13 672.89L212.13 672.50L212.44 672.82L213.51 673.92L214.57 675.00L215.64 676.05L216.70 677.09L217.76 678.10L218.83 679.10L219.89 680.07L220.96 681.03L222.02 681.96L223.09 682.88L224.15 683.78L225.22 684.66L226.28 685.52L227.35 686.37L228.41 687.20L229.48 688.01L230.54 688.81L231.61 689.59L232.67 690.35L233.73 691.10L234.80 691.83L235.86 692.54L236.93 693.25L237.99 693.93L239.06 694.61L240.12 695.27L241.19 695.91L242.25 696.54L243.32 697.16L244.38 697.77L245.45 698.36L246.51 698.94L247.58 699.51L248.64 700.06L249.70 700.60L250.77 701.14L251.83 701.66L252.90 702.17L253.96 702.66L255.03 703.15L256.09 703.63L257.16 704.09L258.22 704.55L259.29 705.00L260.35 705.43L261.42 705.86L262.48 706.28L263.55 706.69L264.61 707.09L265.67 707.48L266.74 707.86L267.80 708.23L268.87 708.60L269.93 708.96L271.00 709.31L272.06 709.65L273.13 709.98L274.19 710.31L275.26 710.63L276.32 710.94L277.39 711.25L278.45 711.55L279.52 711.84L280.58 712.12L281.64 712.40L282.71 712.67L283.77 712.94L284.84 713.20L285.90 713.46L286.97 713.70L288.03 713.95L289.10 714.18L290.16 714.42L291.23 714.64L292.29 714.86L293.36 715.08L294.42 715.29L295.49 715.50L296.55 715.70L297.61 715.90L298.68 716.09L299.74 716.28L300.81 716.46L301.87 716.64L302.94 716.82L304.00 716.99L304.93 717.14L305.93 718.84L306.93 717.44L307.20 717.48L308.26 717.64L309.33 717.79L310.39 717.94L311.46 718.09L312.52 718.23L313.58 718.37L314.65 718.50L315.71 718.63L316.78 718.76L317.84 718.89L318.91 719.01L319.97 719.13L321.04 719.25L322.10 719.37L323.17 719.48L324.23 719.59L325.30 719.69L326.36 719.80L327.43 719.90L328.49 720.00L329.55 720.10L330.62 720.19L331.68 720.29L332.75 720.38L333.81 720.46L334.88 720.55L335.94 720.63L337.01 720.72L338.07 720.80L339.14 720.87L340.20 720.95L341.27 721.03L342.33 721.10L343.40 721.17L344.46 721.24L345.52 721.31L346.59 721.37L347.65 721.44L348.72 721.50L349.78 721.56L350.85 721.62L351.91 721.68L352.98 721.74L354.04 721.79L355.11 721.85L356.17 721.90L357.24 721.95L358.30 722.00L359.37 722.05L359.50 722.06L360.50 723.25L361.50 722.15L362.56 722.19L363.62 722.24L364.69 722.28L365.75 722.32L366.82 722.36L367.88 722.40L368.95 722.44L370.01 722.48L371.08 722.52L372.14 722.56L373.21 722.59L374.27 722.63L375.34 722.66L376.40 722.70" stroke="#acbcc4" stroke-width="2.6" fill="none" stroke-linejoin="miter" stroke-miterlimit="4"/>
<path d="M57.80 707.49L58.60 691.68L59.40 676.54L60.19 662.06L60.99 648.22L61.79 634.98L62.59 622.34L63.39 610.28L64.19 598.77L64.98 587.80L65.78 577.35L66.58 567.40L67.38 557.94L68.18 548.95L68.98 540.41L69.78 532.31L70.57 524.64L71.37 517.37L72.17 510.51L72.97 504.03L73.77 497.91L74.57 492.15L75.37 486.74L76.16 481.66L76.96 476.91L77.76 472.46L78.56 468.31L79.36 464.44L80.16 460.86L80.95 457.54L81.75 454.49L82.55 451.68L83.35 449.10L84.15 446.76L84.95 444.65L85.75 442.74L86.54 441.04L87.34 439.54L88.14 438.23L88.94 437.10L89.74 436.15L90.54 435.37L91.34 434.74L92.13 434.28L92.93 433.96L93.73 433.78L94.53 433.75L95.33 433.84L96.13 434.06L96.92 434.40L97.72 434.86L98.52 435.42L99.32 436.09L100.12 436.86L100.92 437.73L101.72 438.69L102.51 439.74L103.31 440.87L104.11 442.08L104.91 443.37L105.71 444.72L106.51 446.15L107.31 447.64L108.10 449.19L108.90 450.80L109.70 452.46L110.50 454.18L111.30 455.94L112.10 457.75L112.89 459.61L113.69 461.50L114.49 463.43L115.29 465.40L116.09 467.40L116.89 469.44L117.69 471.50L118.48 473.59L119.28 475.70L120.08 477.84L120.88 479.99L121.68 482.17L122.48 484.36L123.28 486.57L124.07 488.79L124.87 491.02L125.67 493.27L126.47 495.52L127.27 497.78L128.07 500.05L128.87 502.32L129.66 504.60L130.46 506.88L131.26 509.16L132.06 511.45L132.86 513.73L133.66 516.01L134.45 518.29L135.25 520.56L136.05 522.83L136.85 525.10L137.65 527.36L138.45 529.61L139.25 531.86L140.04 534.10L140.84 536.32L141.64 538.54L142.44 540.75L143.24 542.95L144.04 545.14L144.83 547.32L145.63 549.48L146.43 551.63L147.23 553.77L148.03 555.90L148.83 558.01L149.63 560.11L150.42 562.19L151.22 564.26L152.02 566.31L152.82 568.35L153.62 570.37L154.42 572.38L155.22 574.37L156.01 576.35L156.81 578.30L157.61 580.24L158.41 582.17L159.21 584.07L160.01 585.96L160.81 587.83L161.60 589.69L162.40 591.53L163.20 593.35L164.00 595.15L164.80 596.93L165.60 598.70L166.39 600.45L167.19 602.18L167.99 603.89L168.79 605.58L169.59 607.26L170.39 608.92L171.19 610.56L171.98 612.18L172.78 613.79L173.58 615.37L174.38 616.94L175.18 618.49L175.98 620.03L176.78 621.54L177.57 623.04L178.37 624.52L179.17 625.99L179.97 627.43L180.77 628.86L181.57 630.27L182.36 631.67L183.16 633.04L183.96 634.40L184.76 635.75L185.56 637.07L186.36 638.38L187.16 639.68L187.95 640.95L188.75 642.22L189.55 643.46L190.35 644.69L191.15 645.90L191.95 647.10L192.75 648.28L193.54 649.44L194.34 650.59L195.14 651.73L195.94 652.85L196.74 653.95L197.54 655.04L198.33 656.12L199.13 657.18L199.93 658.22L200.73 659.26L201.53 660.27L202.33 661.28L203.13 662.27L203.92 663.24L204.72 664.20L205.52 665.15L206.32 666.09L207.12 667.01L207.92 667.92L208.71 668.81L209.51 669.69L210.31 670.56L211.11 671.42L211.91 672.27L212.71 673.10L213.51 673.92L214.30 674.73L215.10 675.53L215.90 676.31L216.70 677.09L217.50 677.85L218.30 678.60L219.10 679.34L219.89 680.07L220.69 680.79L221.49 681.50L222.29 682.19L223.09 682.88L223.89 683.56L224.69 684.22L225.48 684.88L226.28 685.52L227.08 686.16L227.88 686.79L228.68 687.40L229.48 688.01L230.27 688.61L231.07 689.20L231.87 689.78L232.67 690.35L233.47 690.91L234.27 691.46L235.07 692.01L235.86 692.54L236.66 693.07L237.46 693.59L238.26 694.10L239.06 694.61L239.86 695.10L240.66 695.59L241.45 696.07L242.25 696.54L243.05 697.01L243.85 697.46L244.65 697.92L245.45 698.36L246.24 698.79L247.04 699.22L247.84 699.65L248.64 700.06L249.44 700.47L250.24 700.87L251.04 701.27L251.83 701.66L252.63 702.04L253.43 702.42L254.23 702.79L255.03 703.15L255.83 703.51L256.62 703.86L257.42 704.21L258.22 704.55L259.02 704.89L259.82 705.22L260.62 705.54L261.42 705.86L262.21 706.18L263.01 706.48L263.81 706.79L264.61 707.09L265.41 707.38L266.21 707.67L267.01 707.96L267.80 708.23L268.60 708.51L269.40 708.78L270.20 709.05L271.00 709.31L271.80 709.56L272.59 709.82L273.39 710.07L274.19 710.31L274.99 710.55L275.79 710.79L276.59 711.02L277.39 711.25L278.18 711.47L278.98 711.69L279.78 711.91L280.58 712.12L281.38 712.33L282.18 712.54L282.98 712.74L283.77 712.94L284.57 713.14L285.37 713.33L286.17 713.52L286.97 713.70L287.77 713.89L288.56 714.07L289.36 714.24L290.16 714.42L290.96 714.59L291.76 714.75L292.56 714.92L293.36 715.08L294.15 715.24L294.95 715.40L295.75 715.55L296.55 715.70L297.35 715.85L298.15 716.00L298.95 716.14L299.74 716.28L300.54 716.42L301.34 716.55L302.14 716.69L302.94 716.82L303.74 716.95L304.54 717.08L305.33 717.20L306.13 717.32L306.93 717.44L307.73 717.56L308.53 717.68L309.33 717.79L310.12 717.90L310.92 718.01L311.72 718.12L312.52 718.23L313.32 718.33L314.12 718.43L314.92 718.54L315.71 718.63L316.51 718.73L317.31 718.83L318.11 718.92L318.91 719.01L319.71 719.10L320.50 719.19L321.30 719.28L322.10 719.37L322.90 719.45L323.70 719.53L324.50 719.61L325.30 719.69L326.09 719.77L326.89 719.85L327.69 719.93L328.49 720.00L329.29 720.07L330.09 720.15L330.89 720.22L331.68 720.29L332.48 720.35L333.28 720.42L334.08 720.49L334.88 720.55L335.68 720.61L336.48 720.68L337.27 720.74L338.07 720.80L338.87 720.86L339.67 720.91L340.47 720.97L341.27 721.03L342.06 721.08L342.86 721.13L343.66 721.19L344.46 721.24L345.26 721.29L346.06 721.34L346.86 721.39L347.65 721.44L348.45 721.48L349.25 721.53L350.05 721.58L350.85 721.62L351.65 721.66L352.44 721.71L353.24 721.75L354.04 721.79L354.84 721.83L355.64 721.87L356.44 721.91L357.24 721.95L358.03 721.99L358.83 722.03L359.63 722.06L360.43 722.10L361.23 722.13L362.03 722.17L362.83 722.20L363.62 722.24L364.42 722.27L365.22 722.30L366.02 722.33L366.82 722.36L367.62 722.39L368.42 722.42L369.21 722.45L370.01 722.48L370.81 722.51L371.61 722.54L372.41 722.57L373.21 722.59L374.00 722.62L374.80 722.64L375.60 722.67L376.40 722.70" stroke="#962c6a" stroke-width="1.35" fill="none" stroke-dasharray="4.6 4.4"/>
<path d="M121.85 724.00v-5.6M121.85 404.60v5.6M186.70 724.00v-5.6M186.70 404.60v5.6M251.55 724.00v-5.6M251.55 404.60v5.6M316.40 724.00v-5.6M316.40 404.60v5.6M57.00 684.55h5.6M376.40 684.55h-5.6M57.00 645.10h5.6M376.40 645.10h-5.6M57.00 605.65h5.6M376.40 605.65h-5.6M57.00 566.20h5.6M376.40 566.20h-5.6M57.00 526.75h5.6M376.40 526.75h-5.6M57.00 487.30h5.6M376.40 487.30h-5.6M57.00 447.85h5.6M376.40 447.85h-5.6M57.00 408.40h5.6M376.40 408.40h-5.6" stroke="#c4c4c4" stroke-width="0.8" fill="none"/>
<rect x="57.00" y="404.60" width="319.40" height="319.40" fill="none" stroke="#303030" stroke-width="0.95"/>
<text x="57.00" y="740.20" font-size="16.2" text-anchor="middle" >0</text>
<text x="121.85" y="740.20" font-size="16.2" text-anchor="middle" >1</text>
<text x="186.70" y="740.20" font-size="16.2" text-anchor="middle" >2</text>
<text x="251.55" y="740.20" font-size="16.2" text-anchor="middle" >3</text>
<text x="316.40" y="740.20" font-size="16.2" text-anchor="middle" >4</text>
<text x="51.30" y="729.20" font-size="16.2" text-anchor="end" >0</text>
<text x="51.30" y="689.75" font-size="16.2" text-anchor="end" >0.2</text>
<text x="51.30" y="650.30" font-size="16.2" text-anchor="end" >0.4</text>
<text x="51.30" y="610.85" font-size="16.2" text-anchor="end" >0.6</text>
<text x="51.30" y="571.40" font-size="16.2" text-anchor="end" >0.8</text>
<text x="51.30" y="531.95" font-size="16.2" text-anchor="end" >1</text>
<text x="51.30" y="492.50" font-size="16.2" text-anchor="end" >1.2</text>
<text x="51.30" y="453.05" font-size="16.2" text-anchor="end" >1.4</text>
<text x="51.30" y="413.60" font-size="16.2" text-anchor="end" >1.6</text>
<rect x="204.30" y="411.70" width="165.2" height="43.0" fill="#fff" stroke="#303030" stroke-width="1"/>
<path d="M210.00 423.60h26.3" stroke="#acbcc4" stroke-width="2.6"/>
<path d="M210.00 442.50h23.5" stroke="#962c6a" stroke-width="1.45" stroke-dasharray="4.6 4.4"/>
<g font-size="15.3"><text x="241.40" y="427.80" transform="translate(0,-17.112) scale(1,1.04)">Simulation</text><text x="313.30" y="427.80" transform="translate(0,-17.112) scale(1,1.04)">(</text><g transform="translate(318.90,427.80) scale(0.1530)" fill="none" stroke="#000"><ellipse cx="21.8" cy="-21.5" rx="16.8" ry="20" transform="rotate(18 21.8 -21.5)" stroke-width="6.8"/><path d="M20 -40.5 C 35 -40.3, 50 -41, 65 -41" stroke-width="6.6"/></g><path d="M334.80 422.40H342.70M334.80 425.70H342.70" stroke="#000" stroke-width="0.86"/><text x="349.10" y="427.80" transform="translate(0,-17.112) scale(1,1.04)">4</text><text x="355.60" y="427.80" transform="translate(0,-17.112) scale(1,1.04)">)</text><text x="241.80" y="447.00" transform="translate(0,-17.880) scale(1,1.04)">Theoretical</text><text x="314.60" y="447.00" transform="translate(0,-17.880) scale(1,1.04)">(</text><g transform="translate(319.70,447.00) scale(0.1530)" fill="none" stroke="#000"><ellipse cx="21.8" cy="-21.5" rx="16.8" ry="20" transform="rotate(18 21.8 -21.5)" stroke-width="6.8"/><path d="M20 -40.5 C 35 -40.3, 50 -41, 65 -41" stroke-width="6.6"/></g><path d="M336.10 441.60H344.00M336.10 444.90H344.00" stroke="#000" stroke-width="0.86"/><text x="350.40" y="447.00" transform="translate(0,-17.880) scale(1,1.04)">4</text><text x="356.40" y="447.00" transform="translate(0,-17.880) scale(1,1.04)">)</text></g>
<path d="M329.00 759.50L336.34 766.85M336.34 759.50L329.00 766.85" stroke="#000" stroke-width="0.86"/><text x="338.03" y="767.00" font-size="15.30" transform="translate(0,-30.680) scale(1,1.04)">10</text><text x="353.03" y="760.88" font-size="10.71" transform="translate(0,-30.435) scale(1,1.04)">5</text>
<path d="M480.40 404.60V724.00M540.80 404.60V724.00M601.20 404.60V724.00M661.60 404.60V724.00M722.00 404.60V724.00M420.00 674.90H739.00M420.00 625.80H739.00M420.00 576.70H739.00M420.00 527.60H739.00M420.00 478.50H739.00M420.00 429.40H739.00" stroke="#f7f7f7" stroke-width="1" stroke-dasharray="5 4" fill="none"/>
<path d="M421.06 700.71L422.13 678.83L423.19 658.28L424.25 639.01L425.32 620.96L426.38 604.07L427.44 588.30L428.51 573.58L429.57 559.87L430.63 547.12L431.70 535.29L432.76 524.33L433.82 514.20L434.89 504.87L435.95 496.28L437.01 488.41L438.08 481.22L439.14 474.68L440.20 468.75L441.27 463.41L442.33 458.61L443.39 454.34L444.46 450.57L445.52 447.27L446.58 444.42L447.65 441.99L448.71 439.96L449.70 438.41L450.90 434.69L452.10 435.90L452.96 435.41L454.03 435.06L455.09 435.00L456.15 435.21L457.22 435.66L457.90 436.08L458.90 434.23L459.00 436.95L460.00 442.43L461.00 439.08L461.47 439.69L462.53 441.17L463.60 442.83L464.66 444.64L465.72 446.60L466.79 448.69L467.85 450.91L468.80 452.99L470.00 457.62L471.20 458.62L472.10 460.86L473.17 463.57L474.23 466.36L475.29 469.21L476.36 472.13L477.42 475.10L478.48 478.12L479.55 481.19L480.61 484.29L481.67 487.43L482.74 490.59L483.80 493.78L484.86 496.99L485.93 500.22L486.99 503.45L488.05 506.69L489.12 509.94L490.18 513.19L491.24 516.44L492.31 519.68L493.37 522.92L494.43 526.15L495.50 529.36L496.56 532.56L497.62 535.74L498.69 538.91L499.75 542.06L500.81 545.18L501.88 548.28L502.94 551.36L504.00 554.41L505.07 557.43L506.13 560.42L507.19 563.39L508.26 566.32L509.32 569.23L510.38 572.10L511.45 574.94L512.51 577.74L512.74 578.36L513.74 579.27L514.74 583.53L515.70 585.96L516.76 588.62L517.83 591.26L518.89 593.85L519.95 596.41L521.02 598.94L522.08 601.43L523.14 603.88L524.21 606.29L525.27 608.67L526.33 611.01L527.40 613.32L528.46 615.59L529.52 617.82L530.59 620.01L531.65 622.17L532.71 624.30L533.78 626.39L534.84 628.44L535.90 630.46L536.97 632.44L538.03 634.39L539.09 636.31L540.16 638.19L541.22 640.03L542.28 641.85L543.35 643.63L544.41 645.37L545.47 647.09L546.54 648.77L547.60 650.42L548.66 652.04L549.73 653.63L550.79 655.19L551.85 656.72L552.92 658.22L553.98 659.69L555.04 661.13L556.11 662.54L557.17 663.93L558.23 665.28L559.30 666.61L560.36 667.91L561.42 669.19L562.49 670.44L563.42 671.52L564.42 674.28L565.42 673.76L565.68 674.04L566.74 675.19L567.80 676.32L568.87 677.42L569.93 678.50L570.99 679.55L572.06 680.59L573.12 681.60L574.18 682.59L575.25 683.56L576.31 684.51L577.37 685.44L578.44 686.35L579.50 687.23L580.56 688.10L581.63 688.95L582.69 689.79L583.75 690.60L584.82 691.39L585.88 692.17L586.94 692.93L588.01 693.67L589.07 694.40L590.13 695.11L591.20 695.81L592.26 696.48L593.32 697.15L594.39 697.80L595.45 698.43L596.51 699.05L597.58 699.66L598.64 700.25L599.70 700.82L600.77 701.39L601.83 701.94L602.58 702.32L603.58 704.43L604.58 703.31L605.02 703.52L606.08 704.02L607.15 704.51L608.21 704.99L609.27 705.46L610.34 705.92L611.40 706.36L612.46 706.80L613.53 707.23L614.59 707.64L615.65 708.05L616.72 708.44L617.78 708.83L618.84 709.21L619.91 709.58L620.97 709.94L622.03 710.29L623.10 710.63L624.16 710.96L625.22 711.29L626.29 711.61L627.35 711.92L628.41 712.22L629.48 712.52L630.54 712.81L631.60 713.09L632.67 713.37L633.73 713.63L634.79 713.90L635.86 714.15L636.92 714.40L637.98 714.65L639.05 714.88L640.11 715.11L641.17 715.34L642.24 715.56L643.30 715.77L644.36 715.98L645.43 716.19L646.49 716.39L647.55 716.58L648.62 716.77L649.68 716.96L650.74 717.14L651.81 717.31L652.87 717.49L653.93 717.65L655.00 717.82L656.06 717.97L657.12 718.13L658.19 718.28L659.25 718.43L660.31 718.57L661.38 718.71L662.44 718.85L663.50 718.98L664.57 719.11L665.63 719.24L666.69 719.36L667.76 719.48L668.82 719.60L669.88 719.71L670.95 719.82L672.01 719.93L673.07 720.04L674.14 720.14L675.20 720.24L676.26 720.34L677.33 720.44L678.39 720.53L679.45 720.62L680.52 720.71L681.58 720.79L682.64 720.88L683.71 720.96L684.77 721.04L685.83 721.12L686.90 721.19L687.96 721.27L689.02 721.34L690.09 721.41L691.15 721.48L692.21 721.54L693.28 721.61L694.34 721.67L695.40 721.73L696.47 721.79L697.53 721.85L698.59 721.91L699.66 721.96L700.72 722.02L701.78 722.07L702.85 722.12L703.91 722.17L704.97 722.22L706.04 722.26L707.10 722.31L708.16 722.35L709.23 722.40L710.29 722.44L711.35 722.48L712.42 722.52L713.48 722.56L714.54 722.60L715.61 722.64L716.67 722.67L717.73 722.71L718.03 722.72L719.03 720.74L720.03 722.78L720.92 722.81L721.99 722.84L723.05 722.87L724.11 722.90L725.18 722.93L726.24 722.96L727.30 722.99L728.37 723.02L729.43 723.04L730.49 723.07L731.56 723.09L732.62 723.12L733.68 723.14L734.75 723.16L735.81 723.19L736.87 723.21L737.94 723.23L739.00 723.25" stroke="#acbcc4" stroke-width="2.6" fill="none" stroke-linejoin="miter" stroke-miterlimit="4"/>
<path d="M420.80 706.40L421.60 689.60L422.39 673.57L423.19 658.28L423.99 643.71L424.79 629.83L425.58 616.63L426.38 604.07L427.18 592.14L427.98 580.81L428.77 570.06L429.57 559.87L430.37 550.22L431.17 541.09L431.96 532.47L432.76 524.33L433.56 516.66L434.36 509.44L435.15 502.65L435.95 496.28L436.75 490.32L437.55 484.74L438.34 479.53L439.14 474.68L439.94 470.18L440.74 466.01L441.53 462.16L442.33 458.61L443.13 455.36L443.93 452.40L444.72 449.70L445.52 447.27L446.32 445.09L447.12 443.15L447.91 441.44L448.71 439.96L449.51 438.68L450.31 437.61L451.10 436.74L451.90 436.05L452.70 435.54L453.50 435.20L454.29 435.02L455.09 435.00L455.89 435.13L456.69 435.41L457.48 435.82L458.28 436.35L459.08 437.02L459.88 437.80L460.67 438.69L461.47 439.69L462.27 440.79L463.06 441.98L463.86 443.27L464.66 444.64L465.46 446.10L466.25 447.63L467.05 449.24L467.85 450.91L468.65 452.65L469.44 454.45L470.24 456.31L471.04 458.23L471.84 460.19L472.63 462.20L473.43 464.26L474.23 466.36L475.03 468.49L475.82 470.66L476.62 472.87L477.42 475.10L478.22 477.36L479.01 479.65L479.81 481.96L480.61 484.29L481.41 486.64L482.20 489.01L483.00 491.39L483.80 493.78L484.60 496.19L485.39 498.60L486.19 501.02L486.99 503.45L487.79 505.88L488.58 508.32L489.38 510.76L490.18 513.19L490.98 515.63L491.77 518.06L492.57 520.49L493.37 522.92L494.17 525.34L494.96 527.75L495.76 530.16L496.56 532.56L497.36 534.95L498.15 537.33L498.95 539.70L499.75 542.06L500.55 544.40L501.34 546.73L502.14 549.05L502.94 551.36L503.74 553.65L504.53 555.92L505.33 558.18L506.13 560.42L506.93 562.65L507.72 564.86L508.52 567.05L509.32 569.23L510.12 571.38L510.91 573.52L511.71 575.64L512.51 577.74L513.31 579.83L514.11 581.89L514.90 583.93L515.70 585.96L516.50 587.96L517.29 589.95L518.09 591.91L518.89 593.85L519.69 595.78L520.49 597.68L521.28 599.56L522.08 601.43L522.88 603.27L523.67 605.09L524.47 606.89L525.27 608.67L526.07 610.43L526.87 612.17L527.66 613.89L528.46 615.59L529.26 617.26L530.05 618.92L530.85 620.56L531.65 622.17L532.45 623.77L533.25 625.35L534.04 626.91L534.84 628.44L535.64 629.96L536.43 631.46L537.23 632.93L538.03 634.39L538.83 635.83L539.62 637.25L540.42 638.65L541.22 640.03L542.02 641.40L542.82 642.74L543.61 644.07L544.41 645.37L545.21 646.66L546.00 647.93L546.80 649.19L547.60 650.42L548.40 651.64L549.19 652.84L549.99 654.03L550.79 655.19L551.59 656.34L552.38 657.47L553.18 658.59L553.98 659.69L554.78 660.77L555.58 661.84L556.37 662.89L557.17 663.93L557.97 664.95L558.76 665.95L559.56 666.94L560.36 667.91L561.16 668.87L561.95 669.82L562.75 670.75L563.55 671.67L564.35 672.57L565.14 673.46L565.94 674.33L566.74 675.19L567.54 676.04L568.34 676.87L569.13 677.69L569.93 678.50L570.73 679.29L571.52 680.07L572.32 680.84L573.12 681.60L573.92 682.35L574.72 683.08L575.51 683.80L576.31 684.51L577.11 685.21L577.90 685.89L578.70 686.57L579.50 687.23L580.30 687.89L581.10 688.53L581.89 689.16L582.69 689.79L583.49 690.40L584.28 691.00L585.08 691.59L585.88 692.17L586.68 692.74L587.47 693.30L588.27 693.86L589.07 694.40L589.87 694.94L590.66 695.46L591.46 695.98L592.26 696.48L593.06 696.98L593.86 697.47L594.65 697.96L595.45 698.43L596.25 698.90L597.04 699.35L597.84 699.80L598.64 700.25L599.44 700.68L600.23 701.11L601.03 701.53L601.83 701.94L602.63 702.35L603.42 702.74L604.22 703.14L605.02 703.52L605.82 703.90L606.62 704.27L607.41 704.63L608.21 704.99L609.01 705.34L609.80 705.69L610.60 706.03L611.40 706.36L612.20 706.69L613.00 707.01L613.79 707.33L614.59 707.64L615.39 707.95L616.18 708.25L616.98 708.54L617.78 708.83L618.58 709.11L619.38 709.39L620.17 709.67L620.97 709.94L621.77 710.20L622.56 710.46L623.36 710.71L624.16 710.96L624.96 711.21L625.75 711.45L626.55 711.69L627.35 711.92L628.15 712.15L628.94 712.37L629.74 712.59L630.54 712.81L631.34 713.02L632.13 713.23L632.93 713.43L633.73 713.63L634.53 713.83L635.33 714.03L636.12 714.22L636.92 714.40L637.72 714.58L638.51 714.76L639.31 714.94L640.11 715.11L640.91 715.28L641.70 715.45L642.50 715.61L643.30 715.77L644.10 715.93L644.89 716.09L645.69 716.24L646.49 716.39L647.29 716.53L648.09 716.68L648.88 716.82L649.68 716.96L650.48 717.09L651.27 717.23L652.07 717.36L652.87 717.49L653.67 717.61L654.46 717.73L655.26 717.86L656.06 717.97L656.86 718.09L657.65 718.21L658.45 718.32L659.25 718.43L660.05 718.54L660.85 718.64L661.64 718.75L662.44 718.85L663.24 718.95L664.03 719.05L664.83 719.14L665.63 719.24L666.43 719.33L667.23 719.42L668.02 719.51L668.82 719.60L669.62 719.68L670.41 719.77L671.21 719.85L672.01 719.93L672.81 720.01L673.60 720.09L674.40 720.17L675.20 720.24L676.00 720.32L676.79 720.39L677.59 720.46L678.39 720.53L679.19 720.60L679.99 720.66L680.78 720.73L681.58 720.79L682.38 720.86L683.17 720.92L683.97 720.98L684.77 721.04L685.57 721.10L686.37 721.15L687.16 721.21L687.96 721.27L688.76 721.32L689.55 721.37L690.35 721.42L691.15 721.48L691.95 721.53L692.74 721.57L693.54 721.62L694.34 721.67L695.14 721.72L695.93 721.76L696.73 721.81L697.53 721.85L698.33 721.89L699.12 721.93L699.92 721.97L700.72 722.02L701.52 722.05L702.31 722.09L703.11 722.13L703.91 722.17L704.71 722.20L705.50 722.24L706.30 722.28L707.10 722.31L707.90 722.34L708.69 722.38L709.49 722.41L710.29 722.44L711.09 722.47L711.88 722.50L712.68 722.53L713.48 722.56L714.28 722.59L715.08 722.62L715.87 722.65L716.67 722.67L717.47 722.70L718.26 722.73L719.06 722.75L719.86 722.78L720.66 722.80L721.45 722.83L722.25 722.85L723.05 722.87L723.85 722.89L724.64 722.92L725.44 722.94L726.24 722.96L727.04 722.98L727.84 723.00L728.63 723.02L729.43 723.04L730.23 723.06L731.02 723.08L731.82 723.10L732.62 723.12L733.42 723.13L734.21 723.15L735.01 723.17L735.81 723.19L736.61 723.20L737.40 723.22L738.20 723.23L739.00 723.25" stroke="#962c6a" stroke-width="1.35" fill="none" stroke-dasharray="4.6 4.4"/>
<path d="M480.40 724.00v-5.6M480.40 404.60v5.6M540.80 724.00v-5.6M540.80 404.60v5.6M601.20 724.00v-5.6M601.20 404.60v5.6M661.60 724.00v-5.6M661.60 404.60v5.6M722.00 724.00v-5.6M722.00 404.60v5.6M420.00 674.90h5.6M739.00 674.90h-5.6M420.00 625.80h5.6M739.00 625.80h-5.6M420.00 576.70h5.6M739.00 576.70h-5.6M420.00 527.60h5.6M739.00 527.60h-5.6M420.00 478.50h5.6M739.00 478.50h-5.6M420.00 429.40h5.6M739.00 429.40h-5.6" stroke="#c4c4c4" stroke-width="0.8" fill="none"/>
<rect x="420.00" y="404.60" width="319.00" height="319.40" fill="none" stroke="#303030" stroke-width="0.95"/>
<text x="420.00" y="740.20" font-size="16.2" text-anchor="middle" >0</text>
<text x="480.40" y="740.20" font-size="16.2" text-anchor="middle" >0.2</text>
<text x="540.80" y="740.20" font-size="16.2" text-anchor="middle" >0.4</text>
<text x="601.20" y="740.20" font-size="16.2" text-anchor="middle" >0.6</text>
<text x="661.60" y="740.20" font-size="16.2" text-anchor="middle" >0.8</text>
<text x="722.00" y="740.20" font-size="16.2" text-anchor="middle" >1</text>
<text x="414.30" y="729.20" font-size="16.2" text-anchor="end" >0</text>
<text x="414.30" y="680.10" font-size="16.2" text-anchor="end" >0.5</text>
<text x="414.30" y="631.00" font-size="16.2" text-anchor="end" >1</text>
<text x="414.30" y="581.90" font-size="16.2" text-anchor="end" >1.5</text>
<text x="414.30" y="532.80" font-size="16.2" text-anchor="end" >2</text>
<text x="414.30" y="483.70" font-size="16.2" text-anchor="end" >2.5</text>
<text x="414.30" y="434.60" font-size="16.2" text-anchor="end" >3</text>
<rect x="566.90" y="411.70" width="165.2" height="43.0" fill="#fff" stroke="#303030" stroke-width="1"/>
<path d="M572.60 423.60h26.3" stroke="#acbcc4" stroke-width="2.6"/>
<path d="M572.60 442.50h23.5" stroke="#962c6a" stroke-width="1.45" stroke-dasharray="4.6 4.4"/>
<g font-size="15.3"><text x="604.00" y="427.80" transform="translate(0,-17.112) scale(1,1.04)">Simulation</text><text x="675.90" y="427.80" transform="translate(0,-17.112) scale(1,1.04)">(</text><g transform="translate(681.50,427.80) scale(0.1530)" fill="none" stroke="#000"><ellipse cx="21.8" cy="-21.5" rx="16.8" ry="20" transform="rotate(18 21.8 -21.5)" stroke-width="6.8"/><path d="M20 -40.5 C 35 -40.3, 50 -41, 65 -41" stroke-width="6.6"/></g><path d="M697.40 422.40H705.30M697.40 425.70H705.30" stroke="#000" stroke-width="0.86"/><text x="711.70" y="427.80" transform="translate(0,-17.112) scale(1,1.04)">8</text><text x="718.20" y="427.80" transform="translate(0,-17.112) scale(1,1.04)">)</text><text x="604.40" y="447.00" transform="translate(0,-17.880) scale(1,1.04)">Theoretical</text><text x="677.20" y="447.00" transform="translate(0,-17.880) scale(1,1.04)">(</text><g transform="translate(682.30,447.00) scale(0.1530)" fill="none" stroke="#000"><ellipse cx="21.8" cy="-21.5" rx="16.8" ry="20" transform="rotate(18 21.8 -21.5)" stroke-width="6.8"/><path d="M20 -40.5 C 35 -40.3, 50 -41, 65 -41" stroke-width="6.6"/></g><path d="M698.70 441.60H706.60M698.70 444.90H706.60" stroke="#000" stroke-width="0.86"/><text x="713.00" y="447.00" transform="translate(0,-17.880) scale(1,1.04)">8</text><text x="719.00" y="447.00" transform="translate(0,-17.880) scale(1,1.04)">)</text></g>
<path d="M691.60 759.50L698.94 766.85M698.94 759.50L691.60 766.85" stroke="#000" stroke-width="0.86"/><text x="700.63" y="767.00" font-size="15.30" transform="translate(0,-30.680) scale(1,1.04)">10</text><text x="715.63" y="760.88" font-size="10.71" transform="translate(0,-30.435) scale(1,1.04)">6</text>
<text transform="translate(18.3,195.90) rotate(-90)" font-size="15.3" text-anchor="middle">Throughput (frame/s)</text>
<text transform="translate(18.3,564.30) rotate(-90)" font-size="15.3" text-anchor="middle">Throughput (frame/s)</text>
<text x="216.70" y="760.60" font-size="15.3" text-anchor="middle" transform="translate(0,-30.424) scale(1,1.04)" >Number of nano-nodes</text>
<text x="579.50" y="760.60" font-size="15.3" text-anchor="middle" transform="translate(0,-30.424) scale(1,1.04)" >Number of nano-nodes</text>
<path d="M161.54 804.00V1102.80M210.58 804.00V1102.80M259.62 804.00V1102.80M308.66 804.00V1102.80M357.70 804.00V1102.80M406.74 804.00V1102.80M455.78 804.00V1102.80M504.82 804.00V1102.80M553.86 804.00V1102.80M602.90 804.00V1102.80M112.50 1056.66H629.50M112.50 1010.53H629.50M112.50 964.39H629.50M112.50 918.26H629.50M112.50 872.12H629.50M112.50 825.99H629.50" stroke="#f7f7f7" stroke-width="1" stroke-dasharray="5 4" fill="none"/>
<path d="M161.54 1102.80v-5.6M161.54 804.00v5.6M210.58 1102.80v-5.6M210.58 804.00v5.6M259.62 1102.80v-5.6M259.62 804.00v5.6M308.66 1102.80v-5.6M308.66 804.00v5.6M357.70 1102.80v-5.6M357.70 804.00v5.6M406.74 1102.80v-5.6M406.74 804.00v5.6M455.78 1102.80v-5.6M455.78 804.00v5.6M504.82 1102.80v-5.6M504.82 804.00v5.6M553.86 1102.80v-5.6M553.86 804.00v5.6M602.90 1102.80v-5.6M602.90 804.00v5.6M112.50 1056.66h5.6M629.50 1056.66h-5.6M112.50 1010.53h5.6M629.50 1010.53h-5.6M112.50 964.39h5.6M629.50 964.39h-5.6M112.50 918.26h5.6M629.50 918.26h-5.6M112.50 872.12h5.6M629.50 872.12h-5.6M112.50 825.99h5.6M629.50 825.99h-5.6" stroke="#dedede" stroke-width="0.8" fill="none"/>
<rect x="112.50" y="804.00" width="517.00" height="298.80" fill="none" stroke="#303030" stroke-width="1.0"/>
<path d="M112.50 1102.80L113.53 1089.53L114.57 1076.74L115.60 1064.43L116.64 1052.56L117.67 1041.14L118.71 1030.15L119.74 1019.58L120.77 1009.42L121.81 999.65L122.84 990.27L123.88 981.26L124.91 972.62L125.95 964.33L126.98 956.38L128.01 948.77L129.05 941.48L130.08 934.51L131.12 927.84L132.15 921.47L133.19 915.39L134.22 909.59L135.25 904.06L136.29 898.80L137.32 893.79L138.36 889.03L139.39 884.51L140.42 880.23L141.46 876.17L142.49 872.34L143.53 868.72L144.56 865.30L145.60 862.09L146.63 859.07L147.66 856.24L148.70 853.59L149.73 851.12L150.77 848.82L151.80 846.69L152.84 844.72L153.87 842.90L154.90 841.24L155.94 839.72L156.97 838.34L158.01 837.10L159.04 835.99L160.08 835.01L161.11 834.15L162.14 833.41L163.18 832.79L164.21 832.28L165.25 831.87L166.28 831.57L167.32 831.37L168.35 831.26L169.38 831.25L170.42 831.33L171.45 831.50L172.49 831.74L173.52 832.07L174.56 832.48L175.59 832.96L176.62 833.51L177.66 834.13L178.69 834.82L179.73 835.57L180.76 836.38L181.79 837.25L182.83 838.17L183.86 839.15L184.90 840.18L185.93 841.27L186.97 842.39L188.00 843.57L189.03 844.78L190.07 846.04L191.10 847.34L192.14 848.67L193.17 850.04L194.21 851.44L195.24 852.88L196.27 854.34L197.31 855.84L198.34 857.36L199.38 858.91L200.41 860.49L201.45 862.08L202.48 863.70L203.51 865.34L204.55 867.00L205.58 868.67L206.62 870.37L207.65 872.08L208.69 873.80L209.72 875.54L210.75 877.28L211.79 879.04L212.82 880.82L213.86 882.60L214.89 884.38L215.93 886.18L216.96 887.98L217.99 889.79L219.03 891.60L220.06 893.42L221.10 895.24L222.13 897.07L223.17 898.90L224.20 900.72L225.23 902.55L226.27 904.38L227.30 906.21L228.34 908.04L229.37 909.86L230.40 911.69L231.44 913.51L232.47 915.32L233.51 917.14L234.54 918.95L235.58 920.75L236.61 922.55L237.64 924.35L238.68 926.14L239.71 927.92L240.75 929.70L241.78 931.47L242.82 933.23L243.85 934.98L244.88 936.73L245.92 938.47L246.95 940.20L247.99 941.92L249.02 943.63L250.06 945.34L251.09 947.03L252.12 948.72L253.16 950.39L254.19 952.06L255.23 953.71L256.26 955.35L257.30 956.99L258.33 958.61L259.36 960.22L260.40 961.82L261.43 963.41L262.47 964.99L263.50 966.56L264.54 968.11L265.57 969.66L266.60 971.19L267.64 972.71L268.67 974.22L269.71 975.71L270.74 977.20L271.78 978.67L272.81 980.13L273.84 981.58L274.88 983.01L275.91 984.44L276.95 985.85L277.98 987.25L279.01 988.64L280.05 990.01L281.08 991.37L282.12 992.72L283.15 994.06L284.19 995.39L285.22 996.70L286.25 998.00L287.29 999.29L288.32 1000.57L289.36 1001.83L290.39 1003.08L291.43 1004.32L292.46 1005.55L293.49 1006.76L294.53 1007.97L295.56 1009.16L296.60 1010.34L297.63 1011.51L298.67 1012.66L299.70 1013.80L300.73 1014.94L301.77 1016.06L302.80 1017.16L303.84 1018.26L304.87 1019.35L305.91 1020.42L306.94 1021.48L307.97 1022.53L309.01 1023.57L310.04 1024.60L311.08 1025.62L312.11 1026.62L313.15 1027.62L314.18 1028.60L315.21 1029.57L316.25 1030.53L317.28 1031.48L318.32 1032.42L319.35 1033.35L320.38 1034.27L321.42 1035.18L322.45 1036.08L323.49 1036.97L324.52 1037.84L325.56 1038.71L326.59 1039.57L327.62 1040.41L328.66 1041.25L329.69 1042.08L330.73 1042.90L331.76 1043.71L332.80 1044.50L333.83 1045.29L334.86 1046.07L335.90 1046.84L336.93 1047.60L337.97 1048.35L339.00 1049.10L340.04 1049.83L341.07 1050.55L342.10 1051.27L343.14 1051.98L344.17 1052.68L345.21 1053.36L346.24 1054.05L347.28 1054.72L348.31 1055.38L349.34 1056.04L350.38 1056.69L351.41 1057.33L352.45 1057.96L353.48 1058.58L354.52 1059.20L355.55 1059.81L356.58 1060.41L357.62 1061.00L358.65 1061.58L359.69 1062.16L360.72 1062.73L361.76 1063.29L362.79 1063.85L363.82 1064.40L364.86 1064.94L365.89 1065.47L366.93 1066.00L367.96 1066.52L368.99 1067.04L370.03 1067.54L371.06 1068.04L372.10 1068.54L373.13 1069.03L374.17 1069.51L375.20 1069.98L376.23 1070.45L377.27 1070.91L378.30 1071.37L379.34 1071.82L380.37 1072.26L381.41 1072.70L382.44 1073.13L383.47 1073.56L384.51 1073.98L385.54 1074.40L386.58 1074.81L387.61 1075.21L388.65 1075.61L389.68 1076.00L390.71 1076.39L391.75 1076.77L392.78 1077.15L393.82 1077.52L394.85 1077.89L395.89 1078.25L396.92 1078.61L397.95 1078.96L398.99 1079.31L400.02 1079.65L401.06 1079.99L402.09 1080.32L403.13 1080.65L404.16 1080.98L405.19 1081.30L406.23 1081.61L407.26 1081.92L408.30 1082.23L409.33 1082.53L410.37 1082.83L411.40 1083.13L412.43 1083.42L413.47 1083.70L414.50 1083.98L415.54 1084.26L416.57 1084.54L417.60 1084.81L418.64 1085.07L419.67 1085.34L420.71 1085.59L421.74 1085.85L422.78 1086.10L423.81 1086.35L424.84 1086.59L425.88 1086.84L426.91 1087.07L427.95 1087.31L428.98 1087.54L430.02 1087.77L431.05 1087.99L432.08 1088.21L433.12 1088.43L434.15 1088.65L435.19 1088.86L436.22 1089.07L437.26 1089.27L438.29 1089.48L439.32 1089.68L440.36 1089.87L441.39 1090.07L442.43 1090.26L443.46 1090.45L444.50 1090.64L445.53 1090.82L446.56 1091.00L447.60 1091.18L448.63 1091.35L449.67 1091.53L450.70 1091.70L451.74 1091.87L452.77 1092.03L453.80 1092.19L454.84 1092.36L455.87 1092.51L456.91 1092.67L457.94 1092.82L458.97 1092.98L460.01 1093.12L461.04 1093.27L462.08 1093.42L463.11 1093.56L464.15 1093.70L465.18 1093.84L466.21 1093.98L467.25 1094.11L468.28 1094.24L469.32 1094.37L470.35 1094.50L471.39 1094.63L472.42 1094.76L473.45 1094.88L474.49 1095.00L475.52 1095.12L476.56 1095.24L477.59 1095.35L478.63 1095.47L479.66 1095.58L480.69 1095.69L481.73 1095.80L482.76 1095.91L483.80 1096.02L484.83 1096.12L485.87 1096.22L486.90 1096.32L487.93 1096.42L488.97 1096.52L490.00 1096.62L491.04 1096.71L492.07 1096.81L493.11 1096.90L494.14 1096.99L495.17 1097.08L496.21 1097.17L497.24 1097.26L498.28 1097.34L499.31 1097.43L500.35 1097.51L501.38 1097.59L502.41 1097.68L503.45 1097.75L504.48 1097.83L505.52 1097.91L506.55 1097.99L507.58 1098.06L508.62 1098.14L509.65 1098.21L510.69 1098.28L511.72 1098.35L512.76 1098.42L513.79 1098.49L514.82 1098.55L515.86 1098.62L516.89 1098.69L517.93 1098.75L518.96 1098.81L520.00 1098.88L521.03 1098.94L522.06 1099.00L523.10 1099.06L524.13 1099.12L525.17 1099.17L526.20 1099.23L527.24 1099.29L528.27 1099.34L529.30 1099.40L530.34 1099.45L531.37 1099.50L532.41 1099.55L533.44 1099.61L534.48 1099.66L535.51 1099.71L536.54 1099.75L537.58 1099.80L538.61 1099.85L539.65 1099.90L540.68 1099.94L541.72 1099.99L542.75 1100.03L543.78 1100.07L544.82 1100.12L545.85 1100.16L546.89 1100.20L547.92 1100.24L548.96 1100.28L549.99 1100.32L551.02 1100.36L552.06 1100.40L553.09 1100.44L554.13 1100.48L555.16 1100.51L556.19 1100.55L557.23 1100.58L558.26 1100.62L559.30 1100.65L560.33 1100.69L561.37 1100.72L562.40 1100.76L563.43 1100.79L564.47 1100.82L565.50 1100.85L566.54 1100.88L567.57 1100.91L568.61 1100.94L569.64 1100.97L570.67 1101.00L571.71 1101.03L572.74 1101.06L573.78 1101.09L574.81 1101.11L575.85 1101.14L576.88 1101.17L577.91 1101.19L578.95 1101.22L579.98 1101.24L581.02 1101.27L582.05 1101.29L583.09 1101.32L584.12 1101.34L585.15 1101.36L586.19 1101.39L587.22 1101.41L588.26 1101.43L589.29 1101.45L590.33 1101.48L591.36 1101.50L592.39 1101.52L593.43 1101.54L594.46 1101.56L595.50 1101.58L596.53 1101.60L597.56 1101.62L598.60 1101.64L599.63 1101.65L600.67 1101.67L601.70 1101.69L602.74 1101.71L603.77 1101.73L604.80 1101.74L605.84 1101.76L606.87 1101.78L607.91 1101.79L608.94 1101.81L609.98 1101.83L611.01 1101.84L612.04 1101.86L613.08 1101.87L614.11 1101.89L615.15 1101.90L616.18 1101.92L617.22 1101.93L618.25 1101.94L619.28 1101.96L620.32 1101.97L621.35 1101.99L622.39 1102.00L623.42 1102.01L624.46 1102.02L625.49 1102.04L626.52 1102.05L627.56 1102.06L628.59 1102.07L629.63 1102.08L629.63 1102.80L112.50 1102.80Z" fill="#e3f2fb" stroke="#8a9faa" stroke-width="2.0" stroke-dasharray="1.9 2.7"/>
<path d="M112.50 1102.80L112.98 1096.63L113.46 1090.66L113.94 1084.90L114.42 1079.33L114.90 1073.96L115.38 1068.78L115.86 1063.78L116.34 1058.96L116.83 1054.31L117.31 1049.83L117.79 1045.52L118.27 1041.36L118.75 1037.37L119.23 1033.52L119.71 1029.82L120.19 1026.27L120.67 1022.86L121.15 1019.59L121.63 1016.45L122.11 1013.43L122.59 1010.55L123.07 1007.79L123.55 1005.14L124.03 1002.62L124.51 1000.20L125.00 997.90L125.48 995.70L125.96 993.61L126.44 991.62L126.92 989.72L127.40 987.92L127.88 986.22L128.36 984.60L128.84 983.08L129.32 981.64L129.80 980.28L130.28 979.00L130.76 977.80L131.24 976.67L131.72 975.62L132.20 974.64L132.68 973.73L133.17 972.88L133.65 972.10L134.13 971.39L134.61 970.74L135.09 970.14L135.57 969.60L136.05 969.12L136.53 968.70L137.01 968.32L137.49 968.00L137.97 967.72L138.45 967.50L138.93 967.32L139.41 967.18L139.89 967.09L140.37 967.03L140.85 967.02L141.34 967.05L141.82 967.12L142.30 967.22L142.78 967.36L143.26 967.53L143.74 967.73L144.22 967.97L144.70 968.23L145.18 968.53L145.66 968.85L146.14 969.21L146.62 969.58L147.10 969.99L147.58 970.41L148.06 970.86L148.54 971.34L149.02 971.83L149.51 972.35L149.99 972.88L150.47 973.43L150.95 974.01L151.43 974.60L151.91 975.20L152.39 975.83L152.87 976.46L153.35 977.12L153.83 977.78L154.31 978.46L154.79 979.16L155.27 979.86L155.75 980.58L156.23 981.30L156.71 982.04L157.20 982.79L157.68 983.54L158.16 984.31L158.64 985.08L159.12 985.86L159.60 986.65L160.08 987.44L160.56 988.24L161.04 989.05L161.52 989.86L162.00 990.68L162.48 991.50L162.96 992.32L163.44 993.15L163.92 993.99L164.40 994.82L164.88 995.66L165.37 996.50L165.85 997.35L166.33 998.19L166.81 999.04L167.29 999.89L167.77 1000.73L168.25 1001.58L168.73 1002.43L169.21 1003.28L169.69 1004.13L170.17 1004.98L170.65 1005.83L171.13 1006.68L171.61 1007.53L172.09 1008.37L172.57 1009.22L173.05 1010.06L173.54 1010.90L174.02 1011.74L174.50 1012.57L174.98 1013.41L175.46 1014.24L175.94 1015.07L176.42 1015.90L176.90 1016.72L177.38 1017.54L177.86 1018.36L178.34 1019.17L178.82 1019.98L179.30 1020.79L179.78 1021.59L180.26 1022.39L180.74 1023.19L181.22 1023.98L181.71 1024.77L182.19 1025.55L182.67 1026.33L183.15 1027.11L183.63 1027.88L184.11 1028.64L184.59 1029.41L185.07 1030.16L185.55 1030.92L186.03 1031.66L186.51 1032.41L186.99 1033.14L187.47 1033.88L187.95 1034.61L188.43 1035.33L188.91 1036.05L189.39 1036.76L189.88 1037.47L190.36 1038.17L190.84 1038.87L191.32 1039.56L191.80 1040.25L192.28 1040.93L192.76 1041.61L193.24 1042.28L193.72 1042.95L194.20 1043.61L194.68 1044.27L195.16 1044.92L195.64 1045.56L196.12 1046.20L196.60 1046.84L197.08 1047.47L197.56 1048.09L198.05 1048.71L198.53 1049.33L199.01 1049.93L199.49 1050.54L199.97 1051.14L200.45 1051.73L200.93 1052.32L201.41 1052.90L201.89 1053.47L202.37 1054.05L202.85 1054.61L203.33 1055.17L203.81 1055.73L204.29 1056.28L204.77 1056.82L205.25 1057.36L205.73 1057.90L206.22 1058.43L206.70 1058.95L207.18 1059.47L207.66 1059.99L208.14 1060.50L208.62 1061.00L209.10 1061.50L209.58 1062.00L210.06 1062.49L210.54 1062.97L211.02 1063.45L211.50 1063.93L211.98 1064.40L212.46 1064.86L212.94 1065.32L213.42 1065.78L213.90 1066.23L214.39 1066.68L214.87 1067.12L215.35 1067.56L215.83 1067.99L216.31 1068.42L216.79 1068.84L217.27 1069.26L217.75 1069.67L218.23 1070.08L218.71 1070.49L219.19 1070.89L219.67 1071.29L220.15 1071.68L220.63 1072.07L221.11 1072.45L221.59 1072.83L222.07 1073.21L222.56 1073.58L223.04 1073.95L223.52 1074.31L224.00 1074.67L224.48 1075.03L224.96 1075.38L225.44 1075.73L225.92 1076.07L226.40 1076.41L226.88 1076.74L227.36 1077.08L227.84 1077.40L228.32 1077.73L228.80 1078.05L229.28 1078.37L229.76 1078.68L230.25 1078.99L230.73 1079.30L231.21 1079.60L231.69 1079.90L232.17 1080.19L232.65 1080.48L233.13 1080.77L233.61 1081.06L234.09 1081.34L234.57 1081.62L235.05 1081.89L235.53 1082.17L236.01 1082.44L236.49 1082.70L236.97 1082.96L237.45 1083.22L237.93 1083.48L238.42 1083.73L238.90 1083.98L239.38 1084.23L239.86 1084.47L240.34 1084.71L240.82 1084.95L241.30 1085.19L241.78 1085.42L242.26 1085.65L242.74 1085.88L243.22 1086.10L243.70 1086.32L244.18 1086.54L244.66 1086.76L245.14 1086.97L245.62 1087.18L246.10 1087.39L246.59 1087.59L247.07 1087.80L247.55 1088.00L248.03 1088.20L248.51 1088.39L248.99 1088.58L249.47 1088.78L249.95 1088.96L250.43 1089.15L250.91 1089.33L251.39 1089.51L251.87 1089.69L252.35 1089.87L252.83 1090.04L253.31 1090.22L253.79 1090.39L254.27 1090.55L254.76 1090.72L255.24 1090.88L255.72 1091.05L256.20 1091.20L256.68 1091.36L257.16 1091.52L257.64 1091.67L258.12 1091.82L258.60 1091.97L259.08 1092.12L259.56 1092.27L260.04 1092.41L260.52 1092.55L261.00 1092.69L261.48 1092.83L261.96 1092.97L262.44 1093.10L262.93 1093.23L263.41 1093.37L263.89 1093.50L264.37 1093.62L264.85 1093.75L265.33 1093.87L265.81 1094.00L266.29 1094.12L266.77 1094.24L267.25 1094.36L267.73 1094.47L268.21 1094.59L268.69 1094.70L269.17 1094.81L269.65 1094.92L270.13 1095.03L270.61 1095.14L271.10 1095.25L271.58 1095.35L272.06 1095.46L272.54 1095.56L273.02 1095.66L273.50 1095.76L273.98 1095.86L274.46 1095.95L274.94 1096.05L275.42 1096.14L275.90 1096.24L276.38 1096.33L276.86 1096.42L277.34 1096.51L277.82 1096.60L278.30 1096.68L278.78 1096.77L279.27 1096.85L279.75 1096.94L280.23 1097.02L280.71 1097.10L281.19 1097.18L281.67 1097.26L282.15 1097.34L282.63 1097.41L283.11 1097.49L283.59 1097.57L284.07 1097.64L284.55 1097.71L285.03 1097.78L285.51 1097.85L285.99 1097.92L286.47 1097.99L286.95 1098.06L287.44 1098.13L287.92 1098.20L288.40 1098.26L288.88 1098.32L289.36 1098.39L289.84 1098.45L290.32 1098.51L290.80 1098.57L291.28 1098.63L291.76 1098.69L292.24 1098.75L292.72 1098.81L293.20 1098.87L293.68 1098.92L294.16 1098.98L294.64 1099.03L295.12 1099.09L295.61 1099.14L296.09 1099.19L296.57 1099.24L297.05 1099.29L297.53 1099.34L298.01 1099.39L298.49 1099.44L298.97 1099.49L299.45 1099.54L299.93 1099.58L300.41 1099.63L300.89 1099.68L301.37 1099.72L301.85 1099.77L302.33 1099.81L302.81 1099.85L303.30 1099.89L303.78 1099.94L304.26 1099.98L304.74 1100.02L305.22 1100.06L305.70 1100.10L306.18 1100.14L306.66 1100.17L307.14 1100.21L307.62 1100.25L308.10 1100.29L308.58 1100.32L309.06 1100.36L309.54 1100.39L310.02 1100.43L310.50 1100.46L310.98 1100.50L311.47 1100.53L311.95 1100.56L312.43 1100.60L312.91 1100.63L313.39 1100.66L313.87 1100.69L314.35 1100.72L314.83 1100.75L315.31 1100.78L315.79 1100.81L316.27 1100.84L316.75 1100.87L317.23 1100.90L317.71 1100.92L318.19 1100.95L318.67 1100.98L319.15 1101.00L319.64 1101.03L320.12 1101.06L320.60 1101.08L321.08 1101.11L321.56 1101.13L322.04 1101.16L322.52 1101.18L323.00 1101.20L323.48 1101.23L323.96 1101.25L324.44 1101.27L324.92 1101.30L325.40 1101.32L325.88 1101.34L326.36 1101.36L326.84 1101.38L327.32 1101.40L327.81 1101.42L328.29 1101.44L328.77 1101.46L329.25 1101.48L329.73 1101.50L330.21 1101.52L330.69 1101.54L331.17 1101.56L331.65 1101.58L332.13 1101.59L332.61 1101.61L333.09 1101.63L333.57 1101.65L334.05 1101.66L334.53 1101.68L335.01 1101.70L335.49 1101.71L335.98 1101.73L336.46 1101.75L336.94 1101.76L337.42 1101.78L337.90 1101.79L338.38 1101.81L338.86 1101.82L339.34 1101.84L339.82 1101.85L340.30 1101.86L340.78 1101.88L341.26 1101.89L341.74 1101.90L342.22 1101.92L342.70 1101.93L343.18 1101.94L343.66 1101.96L344.15 1101.97L344.63 1101.98L345.11 1101.99L345.59 1102.01L346.07 1102.02L346.55 1102.03L347.03 1102.04L347.51 1102.05L347.99 1102.06L348.47 1102.07L348.95 1102.08L349.43 1102.10L349.91 1102.11L350.39 1102.12L350.87 1102.13L351.35 1102.14L351.83 1102.15L352.32 1102.16L352.80 1102.17L352.80 1102.80L112.50 1102.80Z" fill="#d9e59b" stroke="#8c9f3a" stroke-width="1.7" stroke-dasharray="4.7 2.8 1.6 2.9"/>
<path d="M112.50 1102.80L112.72 1099.94L112.95 1097.16L113.17 1094.48L113.39 1091.87L113.61 1089.36L113.84 1086.92L114.06 1084.56L114.28 1082.28L114.50 1080.08L114.73 1077.95L114.95 1075.89L115.17 1073.91L115.39 1071.99L115.62 1070.14L115.84 1068.35L116.06 1066.63L116.28 1064.97L116.51 1063.37L116.73 1061.83L116.95 1060.35L117.18 1058.93L117.40 1057.56L117.62 1056.24L117.84 1054.97L118.07 1053.76L118.29 1052.60L118.51 1051.48L118.73 1050.41L118.96 1049.39L119.18 1048.41L119.40 1047.48L119.62 1046.59L119.85 1045.74L120.07 1044.93L120.29 1044.16L120.52 1043.43L120.74 1042.73L120.96 1042.07L121.18 1041.45L121.41 1040.86L121.63 1040.31L121.85 1039.78L122.07 1039.29L122.30 1038.83L122.52 1038.40L122.74 1038.00L122.96 1037.62L123.19 1037.28L123.41 1036.96L123.63 1036.67L123.85 1036.40L124.08 1036.16L124.30 1035.94L124.52 1035.74L124.75 1035.57L124.97 1035.42L125.19 1035.29L125.41 1035.18L125.64 1035.09L125.86 1035.01L126.08 1034.96L126.30 1034.93L126.53 1034.91L126.75 1034.91L126.97 1034.93L127.19 1034.97L127.42 1035.01L127.64 1035.08L127.86 1035.16L128.08 1035.25L128.31 1035.36L128.53 1035.48L128.75 1035.61L128.98 1035.75L129.20 1035.91L129.42 1036.08L129.64 1036.26L129.87 1036.45L130.09 1036.65L130.31 1036.86L130.53 1037.08L130.76 1037.31L130.98 1037.55L131.20 1037.79L131.42 1038.05L131.65 1038.31L131.87 1038.58L132.09 1038.86L132.32 1039.14L132.54 1039.44L132.76 1039.73L132.98 1040.04L133.21 1040.35L133.43 1040.66L133.65 1040.99L133.87 1041.31L134.10 1041.64L134.32 1041.98L134.54 1042.32L134.76 1042.66L134.99 1043.01L135.21 1043.36L135.43 1043.72L135.65 1044.08L135.88 1044.44L136.10 1044.81L136.32 1045.18L136.55 1045.55L136.77 1045.92L136.99 1046.30L137.21 1046.68L137.44 1047.06L137.66 1047.44L137.88 1047.82L138.10 1048.21L138.33 1048.59L138.55 1048.98L138.77 1049.37L138.99 1049.76L139.22 1050.15L139.44 1050.54L139.66 1050.93L139.88 1051.33L140.11 1051.72L140.33 1052.11L140.55 1052.51L140.78 1052.90L141.00 1053.29L141.22 1053.69L141.44 1054.08L141.67 1054.47L141.89 1054.87L142.11 1055.26L142.33 1055.65L142.56 1056.04L142.78 1056.43L143.00 1056.82L143.22 1057.21L143.45 1057.60L143.67 1057.99L143.89 1058.37L144.12 1058.76L144.34 1059.14L144.56 1059.52L144.78 1059.90L145.01 1060.28L145.23 1060.66L145.45 1061.04L145.67 1061.41L145.90 1061.79L146.12 1062.16L146.34 1062.53L146.56 1062.90L146.79 1063.27L147.01 1063.63L147.23 1064.00L147.45 1064.36L147.68 1064.72L147.90 1065.08L148.12 1065.43L148.35 1065.79L148.57 1066.14L148.79 1066.49L149.01 1066.84L149.24 1067.19L149.46 1067.53L149.68 1067.87L149.90 1068.21L150.13 1068.55L150.35 1068.89L150.57 1069.22L150.79 1069.55L151.02 1069.88L151.24 1070.21L151.46 1070.54L151.68 1070.86L151.91 1071.18L152.13 1071.50L152.35 1071.82L152.58 1072.13L152.80 1072.44L153.02 1072.75L153.24 1073.06L153.47 1073.36L153.69 1073.67L153.91 1073.97L154.13 1074.27L154.36 1074.56L154.58 1074.86L154.80 1075.15L155.02 1075.44L155.25 1075.72L155.47 1076.01L155.69 1076.29L155.92 1076.57L156.14 1076.85L156.36 1077.12L156.58 1077.40L156.81 1077.67L157.03 1077.94L157.25 1078.20L157.47 1078.47L157.70 1078.73L157.92 1078.99L158.14 1079.25L158.36 1079.50L158.59 1079.76L158.81 1080.01L159.03 1080.25L159.25 1080.50L159.48 1080.75L159.70 1080.99L159.92 1081.23L160.15 1081.47L160.37 1081.70L160.59 1081.93L160.81 1082.17L161.04 1082.39L161.26 1082.62L161.48 1082.85L161.70 1083.07L161.93 1083.29L162.15 1083.51L162.37 1083.73L162.59 1083.94L162.82 1084.15L163.04 1084.36L163.26 1084.57L163.48 1084.78L163.71 1084.98L163.93 1085.18L164.15 1085.38L164.38 1085.58L164.60 1085.78L164.82 1085.97L165.04 1086.17L165.27 1086.36L165.49 1086.55L165.71 1086.73L165.93 1086.92L166.16 1087.10L166.38 1087.28L166.60 1087.46L166.82 1087.64L167.05 1087.82L167.27 1087.99L167.49 1088.16L167.72 1088.33L167.94 1088.50L168.16 1088.67L168.38 1088.84L168.61 1089.00L168.83 1089.16L169.05 1089.32L169.27 1089.48L169.50 1089.64L169.72 1089.79L169.94 1089.95L170.16 1090.10L170.39 1090.25L170.61 1090.40L170.83 1090.54L171.05 1090.69L171.28 1090.83L171.50 1090.98L171.72 1091.12L171.95 1091.26L172.17 1091.39L172.39 1091.53L172.61 1091.67L172.84 1091.80L173.06 1091.93L173.28 1092.06L173.50 1092.19L173.73 1092.32L173.95 1092.45L174.17 1092.57L174.39 1092.69L174.62 1092.82L174.84 1092.94L175.06 1093.06L175.28 1093.18L175.51 1093.29L175.73 1093.41L175.95 1093.52L176.18 1093.64L176.40 1093.75L176.62 1093.86L176.84 1093.97L177.07 1094.08L177.29 1094.18L177.51 1094.29L177.73 1094.39L177.96 1094.50L178.18 1094.60L178.40 1094.70L178.62 1094.80L178.85 1094.90L179.07 1094.99L179.29 1095.09L179.52 1095.19L179.74 1095.28L179.96 1095.37L180.18 1095.47L180.41 1095.56L180.63 1095.65L180.85 1095.73L181.07 1095.82L181.30 1095.91L181.52 1096.00L181.74 1096.08L181.96 1096.16L182.19 1096.25L182.41 1096.33L182.63 1096.41L182.85 1096.49L183.08 1096.57L183.30 1096.65L183.52 1096.72L183.75 1096.80L183.97 1096.88L184.19 1096.95L184.41 1097.02L184.64 1097.10L184.86 1097.17L185.08 1097.24L185.30 1097.31L185.53 1097.38L185.75 1097.45L185.97 1097.52L186.19 1097.58L186.42 1097.65L186.64 1097.71L186.86 1097.78L187.08 1097.84L187.31 1097.90L187.53 1097.97L187.75 1098.03L187.98 1098.09L188.20 1098.15L188.42 1098.21L188.64 1098.27L188.87 1098.32L189.09 1098.38L189.31 1098.44L189.53 1098.49L189.76 1098.55L189.98 1098.60L190.20 1098.66L190.42 1098.71L190.65 1098.76L190.87 1098.81L191.09 1098.87L191.32 1098.92L191.54 1098.97L191.76 1099.02L191.98 1099.06L192.21 1099.11L192.43 1099.16L192.65 1099.21L192.87 1099.25L193.10 1099.30L193.32 1099.34L193.54 1099.39L193.76 1099.43L193.99 1099.48L194.21 1099.52L194.43 1099.56L194.65 1099.60L194.88 1099.65L195.10 1099.69L195.32 1099.73L195.55 1099.77L195.77 1099.81L195.99 1099.85L196.21 1099.88L196.44 1099.92L196.66 1099.96L196.88 1100.00L197.10 1100.03L197.33 1100.07L197.55 1100.10L197.77 1100.14L197.99 1100.17L198.22 1100.21L198.44 1100.24L198.66 1100.28L198.88 1100.31L199.11 1100.34L199.33 1100.37L199.55 1100.41L199.78 1100.44L200.00 1100.47L200.22 1100.50L200.44 1100.53L200.67 1100.56L200.89 1100.59L201.11 1100.62L201.33 1100.65L201.56 1100.68L201.78 1100.70L202.00 1100.73L202.22 1100.76L202.45 1100.78L202.67 1100.81L202.89 1100.84L203.12 1100.86L203.34 1100.89L203.56 1100.91L203.78 1100.94L204.01 1100.96L204.23 1100.99L204.45 1101.01L204.67 1101.04L204.90 1101.06L205.12 1101.08L205.34 1101.11L205.56 1101.13L205.79 1101.15L206.01 1101.17L206.23 1101.19L206.45 1101.22L206.68 1101.24L206.90 1101.26L207.12 1101.28L207.35 1101.30L207.57 1101.32L207.79 1101.34L208.01 1101.36L208.24 1101.38L208.46 1101.40L208.68 1101.41L208.90 1101.43L209.13 1101.45L209.35 1101.47L209.57 1101.49L209.79 1101.50L210.02 1101.52L210.24 1101.54L210.46 1101.56L210.68 1101.57L210.91 1101.59L211.13 1101.61L211.35 1101.62L211.58 1101.64L211.80 1101.65L212.02 1101.67L212.24 1101.68L212.47 1101.70L212.69 1101.71L212.91 1101.73L213.13 1101.74L213.36 1101.76L213.58 1101.77L213.80 1101.78L214.02 1101.80L214.25 1101.81L214.47 1101.82L214.69 1101.84L214.92 1101.85L215.14 1101.86L215.36 1101.88L215.58 1101.89L215.81 1101.90L216.03 1101.91L216.25 1101.93L216.47 1101.94L216.70 1101.95L216.92 1101.96L217.14 1101.97L217.36 1101.98L217.59 1101.99L217.81 1102.00L218.03 1102.02L218.25 1102.03L218.48 1102.04L218.70 1102.05L218.92 1102.06L219.15 1102.07L219.37 1102.08L219.59 1102.09L219.81 1102.10L220.04 1102.11L220.26 1102.12L220.48 1102.13L220.70 1102.13L220.93 1102.14L221.15 1102.15L221.37 1102.16L221.59 1102.17L221.82 1102.18L222.04 1102.19L222.26 1102.20L222.48 1102.20L222.71 1102.21L222.93 1102.22L223.15 1102.23L223.38 1102.24L223.60 1102.24L223.82 1102.25L223.82 1102.80L112.50 1102.80Z" fill="#e9b45a" stroke="#c06c26" stroke-width="1.7" stroke-dasharray="4.5 3 1.5 3 1.5 3"/>
<path d="M112.50 1102.80L112.60 1101.47L112.71 1100.19L112.81 1098.94L112.91 1097.72L113.01 1096.55L113.12 1095.40L113.22 1094.29L113.32 1093.22L113.43 1092.18L113.53 1091.17L113.63 1090.19L113.74 1089.25L113.84 1088.33L113.94 1087.44L114.04 1086.58L114.15 1085.75L114.25 1084.95L114.35 1084.17L114.46 1083.42L114.56 1082.70L114.66 1082.00L114.77 1081.32L114.87 1080.67L114.97 1080.04L115.07 1079.44L115.18 1078.85L115.28 1078.29L115.38 1077.75L115.49 1077.24L115.59 1076.74L115.69 1076.26L115.80 1075.80L115.90 1075.36L116.00 1074.94L116.10 1074.53L116.21 1074.14L116.31 1073.77L116.41 1073.42L116.52 1073.08L116.62 1072.76L116.72 1072.46L116.83 1072.17L116.93 1071.89L117.03 1071.63L117.13 1071.39L117.24 1071.15L117.34 1070.93L117.44 1070.73L117.55 1070.53L117.65 1070.35L117.75 1070.18L117.86 1070.02L117.96 1069.88L118.06 1069.74L118.16 1069.62L118.27 1069.50L118.37 1069.40L118.47 1069.30L118.58 1069.22L118.68 1069.14L118.78 1069.08L118.89 1069.02L118.99 1068.97L119.09 1068.93L119.19 1068.90L119.30 1068.88L119.40 1068.86L119.50 1068.86L119.61 1068.86L119.71 1068.86L119.81 1068.88L119.91 1068.90L120.02 1068.92L120.12 1068.96L120.22 1069.00L120.33 1069.04L120.43 1069.09L120.53 1069.15L120.64 1069.21L120.74 1069.28L120.84 1069.35L120.94 1069.43L121.05 1069.51L121.15 1069.60L121.25 1069.69L121.36 1069.78L121.46 1069.88L121.56 1069.99L121.67 1070.09L121.77 1070.21L121.87 1070.32L121.97 1070.44L122.08 1070.56L122.18 1070.69L122.28 1070.81L122.39 1070.95L122.49 1071.08L122.59 1071.22L122.70 1071.36L122.80 1071.50L122.90 1071.64L123.00 1071.79L123.11 1071.94L123.21 1072.09L123.31 1072.24L123.42 1072.40L123.52 1072.56L123.62 1072.72L123.73 1072.88L123.83 1073.04L123.93 1073.20L124.03 1073.37L124.14 1073.54L124.24 1073.71L124.34 1073.88L124.45 1074.05L124.55 1074.22L124.65 1074.39L124.76 1074.57L124.86 1074.74L124.96 1074.92L125.06 1075.09L125.17 1075.27L125.27 1075.45L125.37 1075.63L125.48 1075.81L125.58 1075.99L125.68 1076.17L125.78 1076.35L125.89 1076.53L125.99 1076.71L126.09 1076.89L126.20 1077.07L126.30 1077.25L126.40 1077.44L126.51 1077.62L126.61 1077.80L126.71 1077.98L126.81 1078.16L126.92 1078.35L127.02 1078.53L127.12 1078.71L127.23 1078.89L127.33 1079.07L127.43 1079.25L127.54 1079.43L127.64 1079.61L127.74 1079.79L127.84 1079.97L127.95 1080.15L128.05 1080.33L128.15 1080.51L128.26 1080.69L128.36 1080.87L128.46 1081.04L128.57 1081.22L128.67 1081.40L128.77 1081.57L128.87 1081.75L128.98 1081.92L129.08 1082.10L129.18 1082.27L129.29 1082.44L129.39 1082.61L129.49 1082.78L129.60 1082.95L129.70 1083.12L129.80 1083.29L129.90 1083.46L130.01 1083.63L130.11 1083.79L130.21 1083.96L130.32 1084.12L130.42 1084.29L130.52 1084.45L130.63 1084.61L130.73 1084.78L130.83 1084.94L130.93 1085.10L131.04 1085.25L131.14 1085.41L131.24 1085.57L131.35 1085.73L131.45 1085.88L131.55 1086.04L131.66 1086.19L131.76 1086.34L131.86 1086.49L131.96 1086.64L132.07 1086.79L132.17 1086.94L132.27 1087.09L132.38 1087.24L132.48 1087.38L132.58 1087.53L132.68 1087.67L132.79 1087.81L132.89 1087.96L132.99 1088.10L133.10 1088.24L133.20 1088.38L133.30 1088.51L133.41 1088.65L133.51 1088.79L133.61 1088.92L133.71 1089.06L133.82 1089.19L133.92 1089.32L134.02 1089.45L134.13 1089.58L134.23 1089.71L134.33 1089.84L134.44 1089.97L134.54 1090.10L134.64 1090.22L134.74 1090.35L134.85 1090.47L134.95 1090.59L135.05 1090.71L135.16 1090.83L135.26 1090.95L135.36 1091.07L135.47 1091.19L135.57 1091.31L135.67 1091.42L135.77 1091.54L135.88 1091.65L135.98 1091.76L136.08 1091.88L136.19 1091.99L136.29 1092.10L136.39 1092.21L136.50 1092.31L136.60 1092.42L136.70 1092.53L136.80 1092.63L136.91 1092.74L137.01 1092.84L137.11 1092.95L137.22 1093.05L137.32 1093.15L137.42 1093.25L137.53 1093.35L137.63 1093.45L137.73 1093.54L137.83 1093.64L137.94 1093.74L138.04 1093.83L138.14 1093.93L138.25 1094.02L138.35 1094.11L138.45 1094.20L138.55 1094.30L138.66 1094.39L138.76 1094.47L138.86 1094.56L138.97 1094.65L139.07 1094.74L139.17 1094.82L139.28 1094.91L139.38 1094.99L139.48 1095.08L139.58 1095.16L139.69 1095.24L139.79 1095.32L139.89 1095.40L140.00 1095.48L140.10 1095.56L140.20 1095.64L140.31 1095.72L140.41 1095.79L140.51 1095.87L140.61 1095.94L140.72 1096.02L140.82 1096.09L140.92 1096.17L141.03 1096.24L141.13 1096.31L141.23 1096.38L141.34 1096.45L141.44 1096.52L141.54 1096.59L141.64 1096.66L141.75 1096.73L141.85 1096.79L141.95 1096.86L142.06 1096.92L142.16 1096.99L142.26 1097.05L142.37 1097.12L142.47 1097.18L142.57 1097.24L142.67 1097.30L142.78 1097.36L142.88 1097.43L142.98 1097.48L143.09 1097.54L143.19 1097.60L143.29 1097.66L143.40 1097.72L143.50 1097.78L143.60 1097.83L143.70 1097.89L143.81 1097.94L143.91 1098.00L144.01 1098.05L144.12 1098.10L144.22 1098.16L144.32 1098.21L144.43 1098.26L144.53 1098.31L144.63 1098.36L144.73 1098.41L144.84 1098.46L144.94 1098.51L145.04 1098.56L145.15 1098.61L145.25 1098.66L145.35 1098.70L145.45 1098.75L145.56 1098.80L145.66 1098.84L145.76 1098.89L145.87 1098.93L145.97 1098.98L146.07 1099.02L146.18 1099.06L146.28 1099.11L146.38 1099.15L146.48 1099.19L146.59 1099.23L146.69 1099.27L146.79 1099.31L146.90 1099.35L147.00 1099.39L147.10 1099.43L147.21 1099.47L147.31 1099.51L147.41 1099.55L147.51 1099.59L147.62 1099.62L147.72 1099.66L147.82 1099.70L147.93 1099.73L148.03 1099.77L148.13 1099.80L148.24 1099.84L148.34 1099.87L148.44 1099.91L148.54 1099.94L148.65 1099.97L148.75 1100.01L148.85 1100.04L148.96 1100.07L149.06 1100.10L149.16 1100.14L149.27 1100.17L149.37 1100.20L149.47 1100.23L149.57 1100.26L149.68 1100.29L149.78 1100.32L149.88 1100.35L149.99 1100.38L150.09 1100.40L150.19 1100.43L150.30 1100.46L150.40 1100.49L150.50 1100.51L150.60 1100.54L150.71 1100.57L150.81 1100.59L150.91 1100.62L151.02 1100.65L151.12 1100.67L151.22 1100.70L151.32 1100.72L151.43 1100.75L151.53 1100.77L151.63 1100.80L151.74 1100.82L151.84 1100.84L151.94 1100.87L152.05 1100.89L152.15 1100.91L152.25 1100.93L152.35 1100.96L152.46 1100.98L152.56 1101.00L152.66 1101.02L152.77 1101.04L152.87 1101.06L152.97 1101.09L153.08 1101.11L153.18 1101.13L153.28 1101.15L153.38 1101.17L153.49 1101.19L153.59 1101.20L153.69 1101.22L153.80 1101.24L153.90 1101.26L154.00 1101.28L154.11 1101.30L154.21 1101.32L154.31 1101.33L154.41 1101.35L154.52 1101.37L154.62 1101.39L154.72 1101.40L154.83 1101.42L154.93 1101.44L155.03 1101.45L155.14 1101.47L155.24 1101.49L155.34 1101.50L155.44 1101.52L155.55 1101.53L155.65 1101.55L155.75 1101.56L155.86 1101.58L155.96 1101.59L156.06 1101.61L156.17 1101.62L156.27 1101.64L156.37 1101.65L156.47 1101.67L156.58 1101.68L156.68 1101.69L156.78 1101.71L156.89 1101.72L156.99 1101.73L157.09 1101.75L157.20 1101.76L157.30 1101.77L157.40 1101.78L157.50 1101.80L157.61 1101.81L157.71 1101.82L157.81 1101.83L157.92 1101.84L158.02 1101.86L158.12 1101.87L158.22 1101.88L158.33 1101.89L158.43 1101.90L158.53 1101.91L158.64 1101.92L158.74 1101.93L158.84 1101.94L158.95 1101.96L159.05 1101.97L159.15 1101.98L159.25 1101.99L159.36 1102.00L159.46 1102.01L159.56 1102.02L159.67 1102.03L159.77 1102.03L159.87 1102.04L159.98 1102.05L160.08 1102.06L160.18 1102.07L160.28 1102.08L160.39 1102.09L160.49 1102.10L160.59 1102.11L160.70 1102.12L160.80 1102.12L160.90 1102.13L161.01 1102.14L161.11 1102.15L161.21 1102.16L161.31 1102.17L161.42 1102.17L161.52 1102.18L161.62 1102.19L161.73 1102.20L161.83 1102.20L161.93 1102.21L162.04 1102.22L162.14 1102.23L162.24 1102.23L162.34 1102.24L162.45 1102.25L162.55 1102.25L162.65 1102.26L162.76 1102.27L162.86 1102.27L162.96 1102.28L163.07 1102.29L163.17 1102.29L163.27 1102.30L163.37 1102.31L163.48 1102.31L163.58 1102.32L163.68 1102.32L163.79 1102.33L163.89 1102.34L163.99 1102.34L163.99 1102.80L112.50 1102.80Z" fill="#df7e86" stroke="#84225c" stroke-width="1.7" stroke-dasharray="4.5 4"/>
<text x="112.50" y="1118.10" font-size="15.2" text-anchor="middle" >0</text>
<text x="161.54" y="1118.10" font-size="15.2" text-anchor="middle" >0.1</text>
<text x="210.58" y="1118.10" font-size="15.2" text-anchor="middle" >0.2</text>
<text x="259.62" y="1118.10" font-size="15.2" text-anchor="middle" >0.3</text>
<text x="308.66" y="1118.10" font-size="15.2" text-anchor="middle" >0.4</text>
<text x="357.70" y="1118.10" font-size="15.2" text-anchor="middle" >0.5</text>
<text x="406.74" y="1118.10" font-size="15.2" text-anchor="middle" >0.6</text>
<text x="455.78" y="1118.10" font-size="15.2" text-anchor="middle" >0.7</text>
<text x="504.82" y="1118.10" font-size="15.2" text-anchor="middle" >0.8</text>
<text x="553.86" y="1118.10" font-size="15.2" text-anchor="middle" >0.9</text>
<text x="602.90" y="1118.10" font-size="15.2" text-anchor="middle" >1</text>
<text x="106.70" y="1107.70" font-size="15.2" text-anchor="end" >0</text>
<text x="106.70" y="1061.57" font-size="15.2" text-anchor="end" >0.5</text>
<text x="106.70" y="1015.43" font-size="15.2" text-anchor="end" >1</text>
<text x="106.70" y="969.29" font-size="15.2" text-anchor="end" >1.5</text>
<text x="106.70" y="923.16" font-size="15.2" text-anchor="end" >2</text>
<text x="106.70" y="877.02" font-size="15.2" text-anchor="end" >2.5</text>
<text x="106.70" y="830.89" font-size="15.2" text-anchor="end" >3</text>
<rect x="543.2" y="810.3" width="75.5" height="75.6" fill="#fff" stroke="#303030" stroke-width="1"/>
<path d="M548 822.00h25" stroke="#84225c" stroke-width="1.7" stroke-dasharray="4.5 4"/>
<path d="M548 839.60h25" stroke="#c06c26" stroke-width="1.7" stroke-dasharray="4.5 3 1.5 3 1.5 3"/>
<path d="M548 857.20h25" stroke="#8c9f3a" stroke-width="1.7" stroke-dasharray="4.7 2.8 1.6 2.9"/>
<path d="M548 874.80h25" stroke="#8a9faa" stroke-width="2.0" stroke-dasharray="1.9 2.7"/>
<g transform="translate(577.00,825.70) scale(0.1435)" fill="none" stroke="#000"><ellipse cx="21.8" cy="-21.5" rx="16.8" ry="20" transform="rotate(18 21.8 -21.5)" stroke-width="6.8"/><path d="M20 -40.5 C 35 -40.3, 50 -41, 65 -41" stroke-width="6.6"/></g><path d="M592.30 820.55H599.00M592.30 823.65H599.00" stroke="#000" stroke-width="0.80"/><text x="603.60" y="825.70" font-size="14.35" transform="translate(0,-33.028) scale(1,1.04)">1</text><g transform="translate(577.00,843.30) scale(0.1435)" fill="none" stroke="#000"><ellipse cx="21.8" cy="-21.5" rx="16.8" ry="20" transform="rotate(18 21.8 -21.5)" stroke-width="6.8"/><path d="M20 -40.5 C 35 -40.3, 50 -41, 65 -41" stroke-width="6.6"/></g><path d="M592.30 838.15H599.00M592.30 841.25H599.00" stroke="#000" stroke-width="0.80"/><text x="604.40" y="843.30" font-size="14.35" transform="translate(0,-33.732) scale(1,1.04)">2</text><g transform="translate(577.00,860.90) scale(0.1435)" fill="none" stroke="#000"><ellipse cx="21.8" cy="-21.5" rx="16.8" ry="20" transform="rotate(18 21.8 -21.5)" stroke-width="6.8"/><path d="M20 -40.5 C 35 -40.3, 50 -41, 65 -41" stroke-width="6.6"/></g><path d="M592.30 855.75H599.00M592.30 858.85H599.00" stroke="#000" stroke-width="0.80"/><text x="604.40" y="860.90" font-size="14.35" transform="translate(0,-34.436) scale(1,1.04)">4</text><g transform="translate(577.00,878.50) scale(0.1435)" fill="none" stroke="#000"><ellipse cx="21.8" cy="-21.5" rx="16.8" ry="20" transform="rotate(18 21.8 -21.5)" stroke-width="6.8"/><path d="M20 -40.5 C 35 -40.3, 50 -41, 65 -41" stroke-width="6.6"/></g><path d="M592.30 873.35H599.00M592.30 876.45H599.00" stroke="#000" stroke-width="0.80"/><text x="604.40" y="878.50" font-size="14.35" transform="translate(0,-35.140) scale(1,1.04)">8</text>
<path d="M563.30 1135.97L570.19 1142.86M570.19 1135.97L563.30 1142.86" stroke="#000" stroke-width="0.80"/><text x="571.77" y="1143.00" font-size="14.35" transform="translate(0,-45.720) scale(1,1.04)">10</text><text x="585.82" y="1137.26" font-size="10.04" transform="translate(0,-45.490) scale(1,1.04)">6</text>
<text transform="translate(76.2,953.40) rotate(-90)" font-size="14.35" text-anchor="middle">Throughput (frame/s)</text>
<text x="371.00" y="1137.60" font-size="14.35" text-anchor="middle" transform="translate(0,-45.504) scale(1,1.04)" >Number of nano-nodes</text>
</svg>
</body></html>
